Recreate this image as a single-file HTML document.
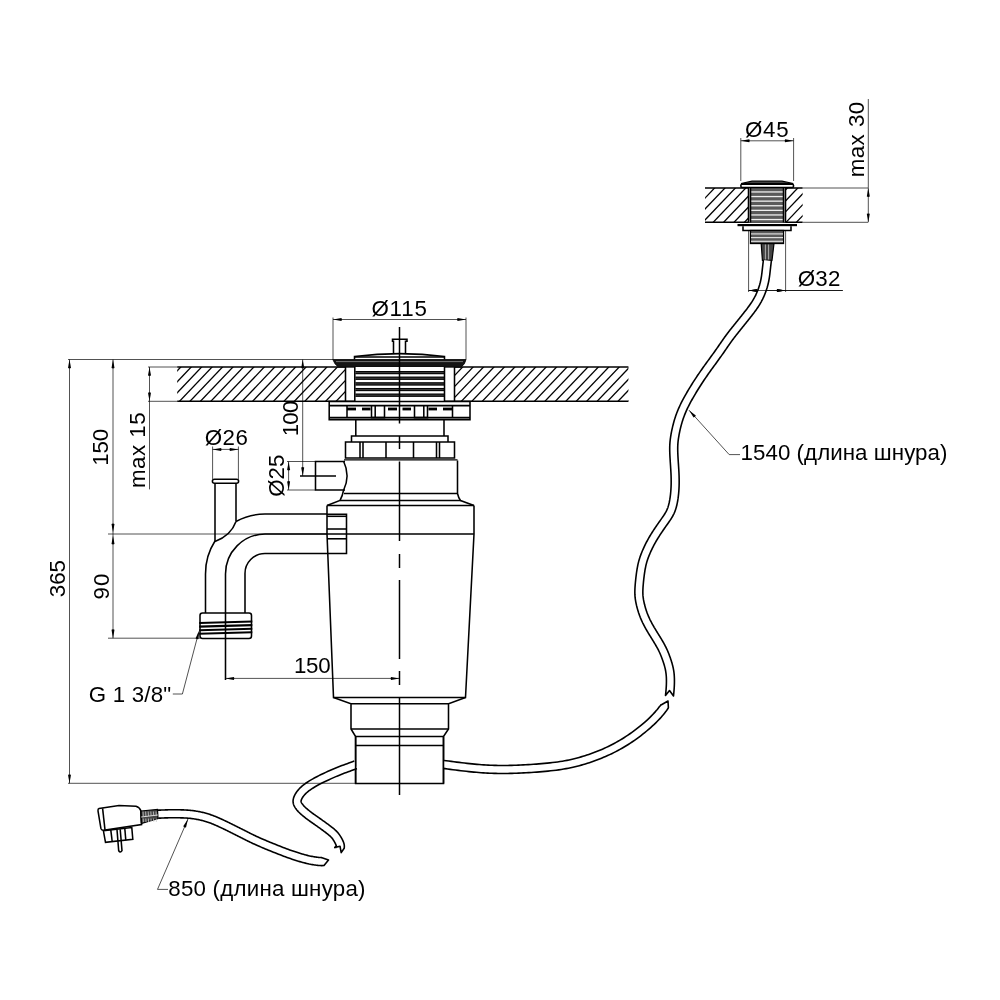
<!DOCTYPE html>
<html><head><meta charset="utf-8"><style>
html,body{margin:0;padding:0;background:#fff;}
svg{display:block;will-change:transform;}
text{font-family:"Liberation Sans",sans-serif;fill:#000;}
.o{stroke:#000;stroke-width:1.55;fill:none;}
.d{stroke:#000;stroke-width:1;fill:none;opacity:0.68;}
.c{stroke:#000;stroke-width:1.5;fill:none;}
.h{stroke:#000;stroke-width:1.3;}
.g{stroke:#777;stroke-width:1;}
.o2{stroke:#000;stroke-width:1.2;}
.f{fill:#151515;stroke:#000;stroke-width:0.8;}
.f2{fill:#444;stroke:#000;stroke-width:1.2;}
.ar{fill:#000;stroke:none;}
.th{stroke:#000;stroke-width:2.1;}
.th2{stroke:#ccc;stroke-width:0.8;}
.g2{stroke:#ddd;stroke-width:1;}
.cordf{fill:#fff;stroke:none;}
.cord{fill:none;stroke:#000;stroke-width:1.6;stroke-linejoin:round;}
</style></head><body>
<svg width="1000" height="1000" viewBox="0 0 1000 1000">
<rect width="1000" height="1000" fill="#fff"/>
<clipPath id="hL"><rect x="177.2" y="367" width="168.3" height="34.19999999999999"/></clipPath>
<g clip-path="url(#hL)">
<line class="h" x1="104.52" y1="403.31" x2="141.01" y2="364.89"/>
<line class="h" x1="114.96" y1="403.31" x2="151.45" y2="364.89"/>
<line class="h" x1="125.40" y1="403.31" x2="161.89" y2="364.89"/>
<line class="h" x1="135.84" y1="403.31" x2="172.33" y2="364.89"/>
<line class="h" x1="146.28" y1="403.31" x2="182.77" y2="364.89"/>
<line class="h" x1="156.72" y1="403.31" x2="193.21" y2="364.89"/>
<line class="h" x1="167.16" y1="403.31" x2="203.65" y2="364.89"/>
<line class="h" x1="177.60" y1="403.31" x2="214.09" y2="364.89"/>
<line class="h" x1="188.04" y1="403.31" x2="224.53" y2="364.89"/>
<line class="h" x1="198.48" y1="403.31" x2="234.97" y2="364.89"/>
<line class="h" x1="208.92" y1="403.31" x2="245.41" y2="364.89"/>
<line class="h" x1="219.36" y1="403.31" x2="255.85" y2="364.89"/>
<line class="h" x1="229.80" y1="403.31" x2="266.29" y2="364.89"/>
<line class="h" x1="240.24" y1="403.31" x2="276.73" y2="364.89"/>
<line class="h" x1="250.68" y1="403.31" x2="287.17" y2="364.89"/>
<line class="h" x1="261.12" y1="403.31" x2="297.61" y2="364.89"/>
<line class="h" x1="271.56" y1="403.31" x2="308.05" y2="364.89"/>
<line class="h" x1="282.00" y1="403.31" x2="318.49" y2="364.89"/>
<line class="h" x1="292.44" y1="403.31" x2="328.93" y2="364.89"/>
<line class="h" x1="302.88" y1="403.31" x2="339.37" y2="364.89"/>
<line class="h" x1="313.32" y1="403.31" x2="349.81" y2="364.89"/>
<line class="h" x1="323.76" y1="403.31" x2="360.25" y2="364.89"/>
<line class="h" x1="334.20" y1="403.31" x2="370.69" y2="364.89"/>
<line class="h" x1="344.64" y1="403.31" x2="381.13" y2="364.89"/>
</g>
<clipPath id="hR"><rect x="454.5" y="367" width="173.89999999999998" height="34.19999999999999"/></clipPath>
<g clip-path="url(#hR)">
<line class="h" x1="177.60" y1="403.31" x2="214.09" y2="364.89"/>
<line class="h" x1="188.04" y1="403.31" x2="224.53" y2="364.89"/>
<line class="h" x1="198.48" y1="403.31" x2="234.97" y2="364.89"/>
<line class="h" x1="208.92" y1="403.31" x2="245.41" y2="364.89"/>
<line class="h" x1="219.36" y1="403.31" x2="255.85" y2="364.89"/>
<line class="h" x1="229.80" y1="403.31" x2="266.29" y2="364.89"/>
<line class="h" x1="240.24" y1="403.31" x2="276.73" y2="364.89"/>
<line class="h" x1="250.68" y1="403.31" x2="287.17" y2="364.89"/>
<line class="h" x1="261.12" y1="403.31" x2="297.61" y2="364.89"/>
<line class="h" x1="271.56" y1="403.31" x2="308.05" y2="364.89"/>
<line class="h" x1="282.00" y1="403.31" x2="318.49" y2="364.89"/>
<line class="h" x1="292.44" y1="403.31" x2="328.93" y2="364.89"/>
<line class="h" x1="302.88" y1="403.31" x2="339.37" y2="364.89"/>
<line class="h" x1="313.32" y1="403.31" x2="349.81" y2="364.89"/>
<line class="h" x1="323.76" y1="403.31" x2="360.25" y2="364.89"/>
<line class="h" x1="334.20" y1="403.31" x2="370.69" y2="364.89"/>
<line class="h" x1="344.64" y1="403.31" x2="381.13" y2="364.89"/>
<line class="h" x1="355.08" y1="403.31" x2="391.57" y2="364.89"/>
<line class="h" x1="365.52" y1="403.31" x2="402.01" y2="364.89"/>
<line class="h" x1="375.96" y1="403.31" x2="412.45" y2="364.89"/>
<line class="h" x1="386.40" y1="403.31" x2="422.89" y2="364.89"/>
<line class="h" x1="396.84" y1="403.31" x2="433.33" y2="364.89"/>
<line class="h" x1="407.28" y1="403.31" x2="443.77" y2="364.89"/>
<line class="h" x1="417.72" y1="403.31" x2="454.21" y2="364.89"/>
<line class="h" x1="428.16" y1="403.31" x2="464.65" y2="364.89"/>
<line class="h" x1="438.60" y1="403.31" x2="475.09" y2="364.89"/>
<line class="h" x1="449.04" y1="403.31" x2="485.53" y2="364.89"/>
<line class="h" x1="459.48" y1="403.31" x2="495.97" y2="364.89"/>
<line class="h" x1="469.92" y1="403.31" x2="506.41" y2="364.89"/>
<line class="h" x1="480.36" y1="403.31" x2="516.85" y2="364.89"/>
<line class="h" x1="490.80" y1="403.31" x2="527.29" y2="364.89"/>
<line class="h" x1="501.24" y1="403.31" x2="537.73" y2="364.89"/>
<line class="h" x1="511.68" y1="403.31" x2="548.17" y2="364.89"/>
<line class="h" x1="522.12" y1="403.31" x2="558.61" y2="364.89"/>
<line class="h" x1="532.56" y1="403.31" x2="569.05" y2="364.89"/>
<line class="h" x1="543.00" y1="403.31" x2="579.49" y2="364.89"/>
<line class="h" x1="553.44" y1="403.31" x2="589.93" y2="364.89"/>
<line class="h" x1="563.88" y1="403.31" x2="600.37" y2="364.89"/>
<line class="h" x1="574.32" y1="403.31" x2="610.81" y2="364.89"/>
<line class="h" x1="584.76" y1="403.31" x2="621.25" y2="364.89"/>
<line class="h" x1="595.20" y1="403.31" x2="631.69" y2="364.89"/>
<line class="h" x1="605.64" y1="403.31" x2="642.13" y2="364.89"/>
<line class="h" x1="616.08" y1="403.31" x2="652.57" y2="364.89"/>
<line class="h" x1="626.52" y1="403.31" x2="663.01" y2="364.89"/>
</g>
<line class="o" x1="177.2" y1="367" x2="345.5" y2="367"/>
<line class="o" x1="454.5" y1="367" x2="628.4" y2="367"/>
<line class="o" x1="177.2" y1="401.3" x2="628.4" y2="401.3"/>
<line class="o" x1="345.5" y1="367" x2="345.5" y2="401.2"/>
<line class="o" x1="454.5" y1="367" x2="454.5" y2="401.2"/>
<line class="d" x1="68" y1="359.5" x2="333" y2="359.5"/>
<line class="d" x1="148" y1="367" x2="177.2" y2="367"/>
<line class="d" x1="148" y1="401.3" x2="177.2" y2="401.3"/>
<line class="d" x1="108" y1="534" x2="327" y2="534"/>
<line class="d" x1="108" y1="638.2" x2="200" y2="638.2"/>
<line class="d" x1="333" y1="317.5" x2="333" y2="359.5"/>
<line class="d" x1="466" y1="317.5" x2="466" y2="359.5"/>
<line class="d" x1="333" y1="319.5" x2="466" y2="319.5"/>
<path class="ar" d="M333.00,319.50 L341.50,318.00 Q342.30,319.50 341.50,321.00 Z"/>
<path class="ar" d="M466.00,319.50 L457.50,321.00 Q456.70,319.50 457.50,318.00 Z"/>
<text x="371.45" y="315.75" font-size="22.3" letter-spacing="0.83">Ø115</text>
<path class="f" d="M332.8,359.5 H466 Q465,364.5 461,367.2 H338.5 Q334.5,364.5 332.8,359.5 Z" />
<line class="g" x1="336" y1="361.6" x2="463" y2="361.6"/>
<path class="o" d="M354.5,359.5 V356.5 Q400,350.8 444.5,356.5 V359.5" />
<line class="o" x1="354.5" y1="356.9" x2="444.5" y2="356.9"/>
<path class="o" d="M393.5,353.8 V341.2 H392.5 V339.2 H407 V341.2 H405.5 V353.8" />
<rect x="354.8" y="367" width="89.7" height="34.2" fill="#fff"/>
<rect x="355.5" y="371.00" width="88.5" height="3.2" fill="#3a3a3a"/>
<rect x="355.5" y="371.10" width="88.5" height="0.9" fill="#000"/>
<rect x="355.5" y="373.20" width="88.5" height="0.9" fill="#000"/>
<rect x="355.5" y="376.65" width="88.5" height="3.2" fill="#3a3a3a"/>
<rect x="355.5" y="376.75" width="88.5" height="0.9" fill="#000"/>
<rect x="355.5" y="378.85" width="88.5" height="0.9" fill="#000"/>
<rect x="355.5" y="382.30" width="88.5" height="3.2" fill="#3a3a3a"/>
<rect x="355.5" y="382.40" width="88.5" height="0.9" fill="#000"/>
<rect x="355.5" y="384.50" width="88.5" height="0.9" fill="#000"/>
<rect x="355.5" y="387.95" width="88.5" height="3.2" fill="#3a3a3a"/>
<rect x="355.5" y="388.05" width="88.5" height="0.9" fill="#000"/>
<rect x="355.5" y="390.15" width="88.5" height="0.9" fill="#000"/>
<rect x="355.5" y="393.60" width="88.5" height="3.2" fill="#3a3a3a"/>
<rect x="355.5" y="393.70" width="88.5" height="0.9" fill="#000"/>
<rect x="355.5" y="395.80" width="88.5" height="0.9" fill="#000"/>
<line class="o" x1="354.8" y1="367" x2="354.8" y2="401.2"/>
<line class="o" x1="444.5" y1="367" x2="444.5" y2="401.2"/>
<path class="o" d="M329.2,401.5 H470 V419.6 H329.2 Z" />
<line class="o" x1="329.2" y1="405.6" x2="470" y2="405.6"/>
<line class="o" x1="329.2" y1="417.6" x2="470" y2="417.6"/>
<path class="o" d="M347,405.6 V417.6" />
<path class="o" d="M452.5,405.6 V417.6" />
<rect x="347" y="407.6" width="9" height="2.8" fill="#000"/>
<rect x="362" y="407.6" width="8.5" height="2.8" fill="#000"/>
<rect x="388" y="407.6" width="9" height="2.8" fill="#000"/>
<rect x="402.5" y="407.6" width="8.5" height="2.8" fill="#000"/>
<rect x="428.5" y="407.6" width="8.5" height="2.8" fill="#000"/>
<rect x="443" y="407.6" width="9" height="2.8" fill="#000"/>
<path class="o" d="M371.5,405.6 V417.6 H384.5 V405.6" />
<line class="o" x1="375.2" y1="405.6" x2="375.2" y2="417.6"/>
<path class="o" d="M414.5,405.6 V417.6 H427.5 V405.6" />
<line class="o" x1="423.8" y1="405.6" x2="423.8" y2="417.6"/>
<line class="o" x1="355.8" y1="419.6" x2="355.8" y2="436"/>
<line class="o" x1="444" y1="419.6" x2="444" y2="436"/>
<path class="o" d="M351.5,442 V436 H448 V442" />
<path class="o" d="M345.5,442 H454.5 V458 H345.5 Z" />
<line class="o" x1="360" y1="442" x2="360" y2="458"/>
<line class="o" x1="363" y1="442" x2="363" y2="458"/>
<line class="o" x1="386" y1="442" x2="386" y2="458"/>
<line class="o" x1="413.5" y1="442" x2="413.5" y2="458"/>
<line class="o" x1="436.5" y1="442" x2="436.5" y2="458"/>
<line class="o" x1="439.5" y1="442" x2="439.5" y2="458"/>
<line class="o2" x1="344" y1="459.9" x2="457.5" y2="459.9"/>
<path class="o" d="M343.5,461 A34,34 0 0 1 343.5,490.5 Q342.5,496 340,500.5 L327,505.5" />
<path class="o" d="M457.5,460.5 V493.5 Q458.5,498 460.5,500.5 L474,505.5" />
<line class="o" x1="344" y1="493.5" x2="457.5" y2="493.5"/>
<line class="o" x1="340" y1="500.5" x2="460.5" y2="500.5"/>
<line class="o" x1="327" y1="505.5" x2="474" y2="505.5"/>
<path class="o" d="M345,461.5 H315.5 V490 H345" />
<line class="o" x1="300" y1="476" x2="336" y2="476"/>
<path class="o" d="M327,505.5 V534 L333.5,697.5 H465.5 L474,534 V505.5" />
<line class="o" x1="327" y1="534" x2="474" y2="534"/>
<path class="o" d="M327,514.2 H346.5 V553.5 H327" />
<line class="o" x1="327" y1="516.3" x2="346.5" y2="516.3"/>
<line class="o" x1="327" y1="529" x2="346.5" y2="529"/>
<line class="o" x1="327" y1="538.8" x2="346.5" y2="538.8"/>
<path class="o" d="M333.5,697.5 L351,703.8 V729 L355.6,736.5 V783.5 H443.5 V736.5 L448.5,729 V703.8 L465.5,697.5" />
<line class="o" x1="351" y1="703.8" x2="448.5" y2="703.8"/>
<line class="o" x1="351" y1="729" x2="448.5" y2="729"/>
<line class="o" x1="355.6" y1="736.5" x2="443.5" y2="736.5"/>
<line class="o" x1="355.6" y1="745.4" x2="443.5" y2="745.4"/>
<line class="c" x1="399.5" y1="327" x2="399.5" y2="423.5"/>
<line class="c" x1="399.5" y1="436" x2="399.5" y2="449"/>
<line class="c" x1="399.5" y1="461.5" x2="399.5" y2="541"/>
<line class="c" x1="399.5" y1="554" x2="399.5" y2="568"/>
<line class="c" x1="399.5" y1="580" x2="399.5" y2="659"/>
<line class="c" x1="399.5" y1="671" x2="399.5" y2="685"/>
<line class="c" x1="399.5" y1="698" x2="399.5" y2="795"/>
<path class="o" d="M214.5,479.2 H236.5 Q238.6,479.2 238.6,481.2 Q238.6,483.2 236.5,483.2 H214.5 Q212.4,483.2 212.4,481.2 Q212.4,479.2 214.5,479.2 Z" />
<line class="o" x1="215" y1="483.2" x2="215" y2="541.5"/>
<line class="o" x1="236" y1="483.2" x2="236" y2="521.5"/>
<path class="o" d="M236,521.5 Q231,535.5 215,541.5" />
<path class="o" d="M236,521.5 A60,60 0 0 1 265,514 H327" />
<path class="o" d="M215,541 A60,60 0 0 0 205.5,574 V613" />
<path class="o" d="M225.5,680 V574 A40,40 0 0 1 265,534 H327" />
<path class="o" d="M245,613 V574 A20,20 0 0 1 265,553.5 H327" />
<rect class="o" x="200" y="613" width="51.5" height="25.5" rx="2.5"/>
<line class="th" x1="199.2" y1="623.00" x2="252.3" y2="621.50"/>
<line class="th" x1="199.2" y1="626.60" x2="252.3" y2="625.10"/>
<line class="th" x1="199.2" y1="630.20" x2="252.3" y2="628.70"/>
<line class="th" x1="199.2" y1="633.80" x2="252.3" y2="632.30"/>
<line class="d" x1="69.5" y1="359.5" x2="69.5" y2="783.3"/>
<path class="ar" d="M69.50,359.50 L71.00,368.00 Q69.50,368.80 68.00,368.00 Z"/>
<path class="ar" d="M69.50,783.30 L68.00,774.80 Q69.50,774.00 71.00,774.80 Z"/>
<text x="0" y="0" font-size="22.3" letter-spacing="0.00" transform="translate(65.05,597.20) rotate(-90)">365</text>
<line class="d" x1="113" y1="359.5" x2="113" y2="638.2"/>
<path class="ar" d="M113.00,359.50 L114.50,368.00 Q113.00,368.80 111.50,368.00 Z"/>
<path class="ar" d="M113.00,532.50 L111.50,524.00 Q113.00,523.20 114.50,524.00 Z"/>
<path class="ar" d="M113.00,535.50 L114.50,544.00 Q113.00,544.80 111.50,544.00 Z"/>
<path class="ar" d="M113.00,638.20 L111.50,629.70 Q113.00,628.90 114.50,629.70 Z"/>
<text x="0" y="0" font-size="22.3" letter-spacing="-0.25" transform="translate(108.15,465.65) rotate(-90)">150</text>
<text x="0" y="0" font-size="22.3" letter-spacing="1.00" transform="translate(108.50,599.50) rotate(-90)">90</text>
<line class="d" x1="149.5" y1="367" x2="149.5" y2="489.4"/>
<path class="ar" d="M149.50,367.00 L151.00,375.50 Q149.50,376.30 148.00,375.50 Z"/>
<path class="ar" d="M149.50,401.20 L148.00,392.70 Q149.50,391.90 151.00,392.70 Z"/>
<text x="0" y="0" font-size="22.3" letter-spacing="0.50" transform="translate(145.15,487.95) rotate(-90)">max 15</text>
<line class="d" x1="302.7" y1="359.5" x2="302.7" y2="476"/>
<path class="ar" d="M302.70,359.50 L304.20,368.00 Q302.70,368.80 301.20,368.00 Z"/>
<path class="ar" d="M302.70,476.00 L301.20,467.50 Q302.70,466.70 304.20,467.50 Z"/>
<text x="0" y="0" font-size="22.3" letter-spacing="-0.75" transform="translate(298.35,436.35) rotate(-90)">100</text>
<line class="d" x1="287" y1="461.5" x2="315.5" y2="461.5"/>
<line class="d" x1="287" y1="490" x2="315.5" y2="490"/>
<line class="d" x1="288.6" y1="461.5" x2="288.6" y2="490"/>
<path class="ar" d="M288.60,461.50 L290.10,470.00 Q288.60,470.80 287.10,470.00 Z"/>
<path class="ar" d="M288.60,490.00 L287.10,481.50 Q288.60,480.70 290.10,481.50 Z"/>
<text x="0" y="0" font-size="22.3" letter-spacing="0.00" transform="translate(284.40,496.80) rotate(-90)">Ø25</text>
<line class="d" x1="212.6" y1="446.5" x2="212.6" y2="479.2"/>
<line class="d" x1="238.4" y1="446.5" x2="238.4" y2="479.2"/>
<line class="d" x1="212.6" y1="449.4" x2="238.4" y2="449.4"/>
<path class="ar" d="M212.60,449.40 L221.10,447.90 Q221.90,449.40 221.10,450.90 Z"/>
<path class="ar" d="M238.40,449.40 L229.90,450.90 Q229.10,449.40 229.90,447.90 Z"/>
<text x="204.70" y="444.85" font-size="22.3" letter-spacing="0.50">Ø26</text>
<line class="d" x1="225.4" y1="678.4" x2="399.5" y2="678.4"/>
<path class="ar" d="M225.40,678.40 L233.90,676.90 Q234.70,678.40 233.90,679.90 Z"/>
<path class="ar" d="M399.50,678.40 L391.00,679.90 Q390.20,678.40 391.00,676.90 Z"/>
<text x="293.95" y="673.35" font-size="22.3" letter-spacing="-0.25">150</text>
<path class="d" d="M172.8,694 H182.4 L198.5,633" />
<path class="ar" d="M199.20,630.50 L198.48,639.10 Q196.83,639.49 195.58,638.34 Z"/>
<text x="88.75" y="702.25" font-size="22.3" letter-spacing="0.21">G 1 3/8"</text>
<clipPath id="sL"><rect x="705" y="188" width="43.5" height="34.30000000000001"/></clipPath>
<g clip-path="url(#sL)">
<line class="h" x1="628.00" y1="224.41" x2="664.59" y2="185.89"/>
<line class="h" x1="638.40" y1="224.41" x2="674.99" y2="185.89"/>
<line class="h" x1="648.80" y1="224.41" x2="685.39" y2="185.89"/>
<line class="h" x1="659.20" y1="224.41" x2="695.79" y2="185.89"/>
<line class="h" x1="669.60" y1="224.41" x2="706.19" y2="185.89"/>
<line class="h" x1="680.00" y1="224.41" x2="716.59" y2="185.89"/>
<line class="h" x1="690.40" y1="224.41" x2="726.99" y2="185.89"/>
<line class="h" x1="700.80" y1="224.41" x2="737.39" y2="185.89"/>
<line class="h" x1="711.20" y1="224.41" x2="747.79" y2="185.89"/>
<line class="h" x1="721.60" y1="224.41" x2="758.19" y2="185.89"/>
<line class="h" x1="732.00" y1="224.41" x2="768.59" y2="185.89"/>
<line class="h" x1="742.40" y1="224.41" x2="778.99" y2="185.89"/>
<line class="h" x1="752.80" y1="224.41" x2="789.38" y2="185.89"/>
</g>
<clipPath id="sR"><rect x="785.7" y="188" width="16.899999999999977" height="34.30000000000001"/></clipPath>
<g clip-path="url(#sR)">
<line class="h" x1="711.20" y1="224.41" x2="747.79" y2="185.89"/>
<line class="h" x1="721.60" y1="224.41" x2="758.19" y2="185.89"/>
<line class="h" x1="732.00" y1="224.41" x2="768.59" y2="185.89"/>
<line class="h" x1="742.40" y1="224.41" x2="778.99" y2="185.89"/>
<line class="h" x1="752.80" y1="224.41" x2="789.38" y2="185.89"/>
<line class="h" x1="763.20" y1="224.41" x2="799.78" y2="185.89"/>
<line class="h" x1="773.60" y1="224.41" x2="810.18" y2="185.89"/>
<line class="h" x1="784.00" y1="224.41" x2="820.58" y2="185.89"/>
<line class="h" x1="794.40" y1="224.41" x2="830.98" y2="185.89"/>
<line class="h" x1="804.80" y1="224.41" x2="841.38" y2="185.89"/>
</g>
<line class="o" x1="705" y1="188" x2="748.5" y2="188"/>
<line class="o" x1="785.7" y1="188" x2="802.6" y2="188"/>
<line class="o" x1="705" y1="222.3" x2="802.6" y2="222.3"/>
<line class="d" x1="802.6" y1="188" x2="868" y2="188"/>
<line class="d" x1="802.6" y1="222.3" x2="868" y2="222.3"/>
<rect x="748.5" y="188" width="37" height="34.3" fill="#fff"/>
<rect x="750.5" y="188" width="33" height="34.3" fill="#5a5a5a"/>
<rect x="750.5" y="191.30" width="33" height="1.3" fill="#eee"/>
<rect x="750.5" y="195.90" width="33" height="1.3" fill="#eee"/>
<rect x="750.5" y="200.50" width="33" height="1.3" fill="#eee"/>
<rect x="750.5" y="205.10" width="33" height="1.3" fill="#eee"/>
<rect x="750.5" y="209.70" width="33" height="1.3" fill="#eee"/>
<rect x="750.5" y="214.30" width="33" height="1.3" fill="#eee"/>
<rect x="750.5" y="218.90" width="33" height="1.3" fill="#eee"/>
<path class="o" d="M748.5,188 V222.5 M785.5,188 V222.5 M750.5,188 V222.5 M783.5,188 V222.5" />
<path class="f2" d="M741,183.5 L752,181.2 H782 L793.3,183.5 Z" />
<rect class="o" x="740.8" y="184.2" width="52.8" height="3.2" rx="1.5" fill="#fff"/>
<rect x="737.5" y="224" width="59.5" height="2.2" fill="#000"/>
<path class="o" d="M743,226.2 V230.5 H791 V226.2" />
<rect x="750.5" y="230.5" width="33" height="13" fill="#5a5a5a" stroke="#000" stroke-width="1.3"/>
<rect x="751" y="233.30" width="32" height="1.2" fill="#ddd"/>
<rect x="751" y="237.00" width="32" height="1.2" fill="#ddd"/>
<rect x="751" y="240.70" width="32" height="1.2" fill="#ddd"/>
<path class="f2" d="M761.2,243.6 H774 L772,260.4 H762.4 Z" />
<line class="th2" x1="765.4" y1="244.5" x2="765.4" y2="259.5"/>
<line class="th2" x1="768.6" y1="244.5" x2="768.6" y2="259.5"/>
<line class="d" x1="740.8" y1="138" x2="740.8" y2="181"/>
<line class="d" x1="793.6" y1="138" x2="793.6" y2="181"/>
<line class="d" x1="740.8" y1="140.8" x2="793.6" y2="140.8"/>
<path class="ar" d="M740.80,140.80 L749.30,139.30 Q750.10,140.80 749.30,142.30 Z"/>
<path class="ar" d="M793.60,140.80 L785.10,142.30 Q784.30,140.80 785.10,139.30 Z"/>
<text x="744.95" y="137.00" font-size="22.3" letter-spacing="0.75">Ø45</text>
<line class="d" x1="868.3" y1="99" x2="868.3" y2="222.3"/>
<path class="ar" d="M868.30,188.00 L869.80,196.50 Q868.30,197.30 866.80,196.50 Z"/>
<path class="ar" d="M868.30,222.30 L866.80,213.80 Q868.30,213.00 869.80,213.80 Z"/>
<text x="0" y="0" font-size="22.3" letter-spacing="0.50" transform="translate(864.30,177.35) rotate(-90)">max 30</text>
<line class="d" x1="748.6" y1="230" x2="748.6" y2="292"/>
<line class="d" x1="785.6" y1="230" x2="785.6" y2="292"/>
<line class="d" x1="748.6" y1="290.5" x2="842.8" y2="290.5"/>
<path class="ar" d="M748.60,290.50 L757.10,289.00 Q757.90,290.50 757.10,292.00 Z"/>
<path class="ar" d="M785.60,290.50 L777.10,292.00 Q776.30,290.50 777.10,289.00 Z"/>
<text x="797.65" y="285.85" font-size="22.3" letter-spacing="0.25">Ø32</text>
<path class="cordf" d="M763.43,259.89 L763.36,260.49 L763.26,261.23 L763.16,262.02 L763.07,262.83 L762.97,263.65 L762.87,264.48 L762.78,265.27 L762.69,266.09 L762.59,266.93 L762.50,267.77 L762.40,268.61 L762.31,269.45 L762.22,270.28 L762.12,271.12 L762.02,271.96 L761.93,272.79 L761.82,273.62 L761.72,274.44 L761.61,275.26 L761.49,276.08 L761.37,276.89 L761.23,277.70 L761.09,278.50 L760.94,279.31 L760.78,280.11 L760.61,280.91 L760.42,281.72 L760.23,282.52 L760.02,283.32 L759.80,284.12 L759.58,284.93 L759.34,285.73 L759.09,286.53 L758.83,287.33 L758.56,288.12 L758.28,288.91 L757.99,289.70 L757.70,290.48 L757.39,291.25 L757.08,292.02 L756.75,292.78 L756.42,293.54 L756.08,294.29 L755.73,295.04 L755.37,295.78 L755.00,296.51 L754.62,297.24 L754.23,297.97 L753.82,298.69 L753.40,299.42 L752.97,300.14 L752.53,300.86 L752.07,301.59 L751.60,302.32 L751.11,303.05 L750.61,303.79 L750.10,304.53 L749.57,305.28 L749.02,306.04 L748.46,306.81 L747.88,307.58 L747.30,308.36 L746.70,309.15 L746.09,309.94 L745.46,310.74 L744.83,311.55 L744.19,312.36 L743.54,313.18 L742.89,314.00 L742.23,314.83 L741.57,315.65 L740.91,316.48 L740.24,317.32 L739.57,318.15 L738.90,318.98 L738.23,319.82 L737.56,320.65 L736.89,321.48 L736.22,322.31 L735.55,323.15 L734.88,323.98 L734.21,324.81 L733.54,325.65 L732.87,326.49 L732.20,327.32 L731.53,328.16 L730.86,329.01 L730.19,329.85 L729.52,330.71 L728.86,331.56 L728.19,332.42 L727.53,333.29 L726.87,334.16 L726.22,335.04 L725.57,335.93 L724.92,336.82 L724.28,337.71 L723.64,338.61 L723.00,339.52 L722.36,340.43 L721.72,341.35 L721.09,342.27 L720.45,343.19 L719.81,344.12 L719.17,345.06 L718.53,346.00 L717.87,346.94 L717.22,347.89 L716.55,348.84 L715.88,349.80 L715.20,350.76 L714.52,351.72 L713.83,352.69 L713.14,353.65 L712.44,354.62 L711.74,355.59 L711.04,356.55 L710.33,357.52 L709.63,358.48 L708.93,359.44 L708.23,360.39 L707.53,361.35 L706.84,362.30 L706.15,363.25 L705.46,364.20 L704.77,365.15 L704.09,366.10 L703.41,367.06 L702.73,368.01 L702.05,368.97 L701.37,369.93 L700.70,370.90 L700.03,371.87 L699.35,372.84 L698.68,373.83 L698.01,374.82 L697.34,375.81 L696.67,376.82 L696.00,377.83 L695.33,378.84 L694.67,379.86 L694.00,380.89 L693.34,381.91 L692.69,382.95 L692.03,383.98 L691.39,385.02 L690.74,386.06 L690.10,387.10 L689.47,388.13 L688.85,389.17 L688.23,390.20 L687.62,391.24 L687.01,392.27 L686.42,393.29 L685.83,394.31 L685.25,395.33 L684.68,396.35 L684.12,397.37 L683.57,398.38 L683.03,399.39 L682.49,400.40 L681.97,401.42 L681.45,402.44 L680.94,403.46 L680.44,404.49 L679.95,405.52 L679.47,406.57 L678.99,407.62 L678.52,408.69 L678.06,409.76 L677.61,410.85 L677.17,411.96 L676.74,413.08 L676.32,414.21 L675.91,415.35 L675.51,416.52 L675.12,417.69 L674.74,418.88 L674.38,420.07 L674.03,421.28 L673.69,422.49 L673.36,423.71 L673.05,424.93 L672.74,426.14 L672.46,427.35 L672.18,428.56 L671.92,429.75 L671.68,430.93 L671.44,432.10 L671.22,433.26 L671.02,434.40 L670.83,435.53 L670.65,436.65 L670.48,437.76 L670.33,438.86 L670.20,439.97 L670.08,441.08 L669.97,442.20 L669.89,443.33 L669.82,444.48 L669.77,445.65 L669.73,446.84 L669.72,448.05 L669.71,449.29 L669.73,450.57 L669.76,451.87 L669.80,453.20 L669.85,454.56 L669.92,455.95 L669.99,457.36 L670.08,458.80 L670.17,460.25 L670.26,461.72 L670.36,463.21 L670.46,464.70 L670.56,466.20 L670.65,467.69 L670.75,469.19 L670.83,470.69 L670.91,472.18 L670.99,473.66 L671.05,475.13 L671.10,476.59 L671.14,478.04 L671.16,479.47 L671.17,480.90 L671.17,482.30 L671.16,483.69 L671.13,485.06 L671.08,486.41 L671.02,487.73 L670.95,489.03 L670.87,490.29 L670.77,491.52 L670.67,492.72 L670.55,493.87 L670.43,494.99 L670.30,496.06 L670.16,497.08 L670.02,498.06 L669.87,498.99 L669.73,499.88 L669.58,500.71 L669.42,501.51 L669.27,502.26 L669.11,502.97 L668.95,503.65 L668.79,504.30 L668.63,504.91 L668.47,505.50 L668.30,506.07 L668.13,506.62 L667.96,507.15 L667.78,507.67 L667.59,508.18 L667.40,508.68 L667.20,509.18 L666.99,509.67 L666.78,510.16 L666.55,510.64 L666.31,511.14 L666.05,511.63 L665.78,512.14 L665.49,512.65 L665.18,513.18 L664.85,513.72 L664.50,514.28 L664.12,514.86 L663.72,515.47 L663.30,516.09 L662.86,516.74 L662.39,517.42 L661.89,518.12 L661.38,518.85 L660.85,519.61 L660.30,520.39 L659.73,521.19 L659.14,522.02 L658.55,522.87 L657.94,523.73 L657.32,524.62 L656.70,525.52 L656.08,526.43 L655.45,527.35 L654.83,528.27 L654.21,529.20 L653.59,530.14 L652.98,531.08 L652.38,532.02 L651.78,532.96 L651.19,533.90 L650.62,534.84 L650.05,535.78 L649.49,536.73 L648.94,537.67 L648.40,538.62 L647.87,539.58 L647.35,540.53 L646.83,541.50 L646.33,542.46 L645.83,543.43 L645.34,544.41 L644.87,545.39 L644.40,546.37 L643.94,547.35 L643.49,548.33 L643.05,549.31 L642.63,550.28 L642.21,551.26 L641.81,552.22 L641.43,553.19 L641.05,554.15 L640.69,555.11 L640.35,556.07 L640.02,557.02 L639.70,557.99 L639.40,558.95 L639.11,559.92 L638.83,560.90 L638.57,561.89 L638.32,562.89 L638.08,563.90 L637.86,564.93 L637.64,565.97 L637.44,567.03 L637.24,568.10 L637.06,569.18 L636.88,570.28 L636.71,571.39 L636.55,572.50 L636.39,573.62 L636.25,574.75 L636.11,575.87 L635.97,577.00 L635.84,578.11 L635.72,579.22 L635.61,580.32 L635.50,581.41 L635.39,582.47 L635.30,583.53 L635.21,584.56 L635.13,585.57 L635.06,586.57 L635.00,587.54 L634.95,588.49 L634.91,589.42 L634.88,590.33 L634.86,591.23 L634.85,592.10 L634.85,592.97 L634.87,593.82 L634.90,594.66 L634.95,595.50 L635.01,596.32 L635.08,597.15 L635.17,597.97 L635.28,598.80 L635.39,599.63 L635.52,600.46 L635.67,601.30 L635.83,602.15 L636.00,603.00 L636.18,603.87 L636.38,604.75 L636.58,605.63 L636.81,606.53 L637.04,607.43 L637.28,608.34 L637.54,609.25 L637.80,610.17 L638.08,611.09 L638.37,612.00 L638.66,612.92 L638.97,613.83 L639.29,614.74 L639.62,615.65 L639.96,616.55 L640.31,617.45 L640.68,618.34 L641.05,619.23 L641.43,620.11 L641.83,621.00 L642.23,621.87 L642.64,622.75 L643.07,623.62 L643.50,624.48 L643.95,625.35 L644.40,626.22 L644.86,627.08 L645.33,627.94 L645.81,628.80 L646.30,629.65 L646.79,630.51 L647.29,631.36 L647.79,632.21 L648.30,633.06 L648.81,633.91 L649.33,634.76 L649.85,635.60 L650.37,636.44 L650.89,637.28 L651.41,638.11 L651.92,638.95 L652.44,639.78 L652.95,640.61 L653.46,641.43 L653.96,642.26 L654.45,643.08 L654.94,643.89 L655.42,644.70 L655.89,645.51 L656.35,646.31 L656.80,647.11 L657.24,647.90 L657.66,648.68 L658.07,649.46 L658.46,650.23 L658.84,650.99 L659.21,651.75 L659.57,652.50 L659.91,653.24 L660.24,653.99 L660.55,654.73 L660.86,655.46 L661.16,656.20 L661.45,656.95 L661.73,657.69 L662.01,658.44 L662.29,659.19 L662.56,659.94 L662.82,660.70 L663.08,661.47 L663.34,662.23 L663.59,663.00 L663.83,663.78 L664.07,664.55 L664.30,665.33 L664.52,666.10 L664.73,666.88 L664.93,667.66 L665.12,668.43 L665.30,669.20 L665.46,669.97 L665.61,670.74 L665.74,671.51 L665.86,672.27 L665.97,673.03 L666.06,673.79 L666.15,674.55 L666.21,675.30 L666.27,676.05 L666.32,676.80 L666.36,677.54 L666.39,678.27 L666.41,679.00 L666.42,679.72 L666.43,680.44 L666.43,681.14 L666.43,681.84 L666.42,682.53 L666.41,683.21 L666.39,683.88 L666.37,684.55 L666.34,685.21 L666.31,685.87 L666.28,686.52 L666.24,687.17 L666.20,687.81 L666.16,688.45 L666.11,689.09 L666.06,689.72 L666.00,690.35 L665.95,690.97 L665.89,691.59 L665.83,692.22 L665.77,692.84 L665.71,693.44 L665.64,694.02 L665.58,694.58 L665.50,695.50 L669.50,690.50 L673.50,696.00 L673.53,695.50 L673.60,694.90 L673.66,694.27 L673.73,693.64 L673.79,692.98 L673.85,692.33 L673.91,691.71 L673.97,691.05 L674.03,690.38 L674.08,689.71 L674.13,689.03 L674.18,688.34 L674.23,687.66 L674.27,686.96 L674.30,686.26 L674.34,685.55 L674.36,684.84 L674.39,684.12 L674.41,683.39 L674.42,682.65 L674.43,681.91 L674.43,681.15 L674.43,680.38 L674.42,679.60 L674.41,678.80 L674.38,678.00 L674.35,677.17 L674.31,676.34 L674.25,675.49 L674.19,674.63 L674.11,673.76 L674.01,672.87 L673.90,671.98 L673.77,671.09 L673.63,670.19 L673.47,669.29 L673.30,668.39 L673.11,667.49 L672.91,666.60 L672.69,665.71 L672.46,664.83 L672.23,663.96 L671.98,663.09 L671.73,662.24 L671.47,661.40 L671.20,660.56 L670.93,659.73 L670.66,658.91 L670.38,658.10 L670.10,657.29 L669.81,656.48 L669.52,655.67 L669.22,654.86 L668.91,654.05 L668.59,653.24 L668.26,652.43 L667.92,651.61 L667.57,650.79 L667.20,649.96 L666.82,649.13 L666.43,648.29 L666.02,647.45 L665.60,646.61 L665.16,645.76 L664.72,644.91 L664.26,644.06 L663.79,643.21 L663.31,642.36 L662.82,641.51 L662.32,640.65 L661.82,639.80 L661.31,638.95 L660.80,638.10 L660.28,637.26 L659.76,636.41 L659.24,635.57 L658.72,634.73 L658.20,633.90 L657.69,633.06 L657.17,632.23 L656.66,631.40 L656.15,630.58 L655.65,629.76 L655.16,628.94 L654.67,628.12 L654.18,627.31 L653.71,626.49 L653.24,625.68 L652.79,624.88 L652.34,624.07 L651.90,623.27 L651.47,622.47 L651.05,621.67 L650.64,620.87 L650.24,620.07 L649.85,619.28 L649.48,618.48 L649.11,617.69 L648.75,616.89 L648.41,616.09 L648.07,615.29 L647.75,614.49 L647.43,613.68 L647.12,612.87 L646.83,612.05 L646.54,611.23 L646.26,610.40 L645.99,609.57 L645.72,608.73 L645.47,607.90 L645.23,607.06 L645.00,606.23 L644.78,605.40 L644.56,604.58 L644.36,603.76 L644.17,602.96 L644.00,602.17 L643.83,601.39 L643.68,600.63 L643.54,599.89 L643.42,599.16 L643.31,598.44 L643.21,597.74 L643.12,597.05 L643.05,596.36 L642.98,595.68 L642.93,594.99 L642.90,594.29 L642.87,593.59 L642.85,592.86 L642.85,592.12 L642.86,591.35 L642.87,590.56 L642.90,589.74 L642.94,588.89 L642.99,588.01 L643.04,587.10 L643.11,586.17 L643.19,585.21 L643.27,584.22 L643.36,583.21 L643.46,582.18 L643.56,581.14 L643.67,580.08 L643.79,579.01 L643.92,577.93 L644.05,576.85 L644.18,575.77 L644.32,574.69 L644.47,573.62 L644.62,572.56 L644.78,571.52 L644.95,570.49 L645.12,569.49 L645.30,568.50 L645.49,567.54 L645.68,566.59 L645.88,565.67 L646.09,564.77 L646.32,563.88 L646.55,563.01 L646.79,562.15 L647.04,561.29 L647.31,560.44 L647.59,559.59 L647.89,558.73 L648.20,557.87 L648.53,557.00 L648.87,556.13 L649.22,555.24 L649.59,554.35 L649.97,553.45 L650.37,552.54 L650.78,551.62 L651.20,550.71 L651.63,549.79 L652.07,548.87 L652.52,547.96 L652.97,547.04 L653.44,546.14 L653.91,545.23 L654.39,544.33 L654.88,543.44 L655.37,542.55 L655.88,541.66 L656.39,540.77 L656.92,539.88 L657.45,539.00 L658.00,538.11 L658.55,537.21 L659.12,536.32 L659.70,535.42 L660.28,534.52 L660.88,533.62 L661.47,532.73 L662.08,531.83 L662.69,530.94 L663.29,530.05 L663.90,529.18 L664.50,528.31 L665.09,527.46 L665.68,526.63 L666.26,525.81 L666.83,525.01 L667.38,524.23 L667.92,523.46 L668.44,522.72 L668.95,521.99 L669.44,521.28 L669.92,520.59 L670.38,519.91 L670.82,519.24 L671.25,518.58 L671.66,517.92 L672.05,517.28 L672.42,516.64 L672.78,516.00 L673.12,515.37 L673.45,514.74 L673.76,514.11 L674.05,513.48 L674.33,512.86 L674.60,512.23 L674.85,511.61 L675.09,510.98 L675.32,510.34 L675.54,509.70 L675.75,509.05 L675.96,508.38 L676.16,507.70 L676.35,507.00 L676.54,506.27 L676.73,505.52 L676.91,504.74 L677.09,503.92 L677.27,503.07 L677.44,502.18 L677.61,501.25 L677.77,500.27 L677.93,499.25 L678.09,498.18 L678.23,497.07 L678.37,495.91 L678.51,494.71 L678.63,493.47 L678.74,492.18 L678.85,490.86 L678.94,489.51 L679.01,488.13 L679.08,486.72 L679.12,485.28 L679.16,483.83 L679.17,482.35 L679.17,480.87 L679.16,479.37 L679.13,477.86 L679.09,476.34 L679.04,474.82 L678.98,473.29 L678.90,471.77 L678.82,470.24 L678.73,468.71 L678.64,467.19 L678.54,465.68 L678.44,464.17 L678.34,462.68 L678.24,461.21 L678.15,459.75 L678.06,458.32 L677.98,456.92 L677.91,455.55 L677.85,454.21 L677.79,452.91 L677.75,451.65 L677.73,450.43 L677.71,449.25 L677.72,448.11 L677.73,447.01 L677.76,445.94 L677.81,444.90 L677.87,443.88 L677.95,442.87 L678.04,441.87 L678.14,440.88 L678.27,439.88 L678.40,438.88 L678.55,437.86 L678.72,436.83 L678.90,435.78 L679.09,434.72 L679.30,433.63 L679.52,432.53 L679.75,431.42 L679.99,430.29 L680.25,429.16 L680.52,428.02 L680.80,426.88 L681.10,425.74 L681.40,424.61 L681.72,423.48 L682.04,422.36 L682.38,421.25 L682.73,420.16 L683.09,419.08 L683.46,418.01 L683.83,416.95 L684.22,415.91 L684.62,414.88 L685.03,413.86 L685.44,412.86 L685.87,411.86 L686.30,410.88 L686.74,409.90 L687.19,408.92 L687.65,407.96 L688.12,406.99 L688.60,406.03 L689.09,405.07 L689.59,404.11 L690.09,403.15 L690.61,402.18 L691.14,401.21 L691.68,400.24 L692.22,399.26 L692.78,398.28 L693.35,397.29 L693.92,396.30 L694.51,395.30 L695.10,394.29 L695.70,393.29 L696.31,392.28 L696.93,391.27 L697.55,390.26 L698.18,389.25 L698.81,388.24 L699.45,387.23 L700.09,386.22 L700.73,385.22 L701.37,384.22 L702.02,383.22 L702.67,382.23 L703.33,381.25 L703.98,380.27 L704.63,379.30 L705.29,378.33 L705.95,377.37 L706.61,376.42 L707.26,375.47 L707.93,374.52 L708.59,373.58 L709.25,372.64 L709.92,371.70 L710.59,370.77 L711.26,369.83 L711.94,368.89 L712.62,367.95 L713.31,367.01 L714.00,366.06 L714.69,365.11 L715.39,364.16 L716.09,363.20 L716.80,362.23 L717.51,361.26 L718.21,360.29 L718.92,359.31 L719.63,358.33 L720.34,357.34 L721.04,356.36 L721.73,355.38 L722.42,354.40 L723.11,353.43 L723.78,352.46 L724.45,351.49 L725.11,350.54 L725.76,349.59 L726.41,348.65 L727.05,347.72 L727.68,346.81 L728.30,345.90 L728.93,345.00 L729.55,344.11 L730.16,343.24 L730.78,342.37 L731.40,341.51 L732.02,340.65 L732.65,339.80 L733.27,338.96 L733.91,338.12 L734.54,337.29 L735.18,336.46 L735.83,335.63 L736.48,334.80 L737.13,333.97 L737.79,333.14 L738.45,332.31 L739.11,331.49 L739.78,330.66 L740.44,329.83 L741.11,328.99 L741.78,328.16 L742.45,327.33 L743.12,326.50 L743.79,325.66 L744.46,324.83 L745.14,323.99 L745.81,323.16 L746.48,322.32 L747.15,321.49 L747.82,320.65 L748.49,319.82 L749.15,318.98 L749.81,318.15 L750.47,317.32 L751.12,316.49 L751.77,315.66 L752.41,314.83 L753.05,314.01 L753.67,313.19 L754.29,312.37 L754.89,311.56 L755.49,310.75 L756.07,309.94 L756.65,309.13 L757.21,308.32 L757.76,307.51 L758.29,306.70 L758.82,305.89 L759.33,305.08 L759.82,304.27 L760.31,303.46 L760.78,302.64 L761.24,301.82 L761.68,300.99 L762.12,300.16 L762.54,299.33 L762.95,298.49 L763.34,297.65 L763.73,296.80 L764.10,295.95 L764.46,295.09 L764.81,294.23 L765.16,293.36 L765.49,292.49 L765.81,291.62 L766.12,290.73 L766.42,289.85 L766.71,288.96 L766.99,288.06 L767.26,287.17 L767.51,286.27 L767.76,285.36 L767.99,284.46 L768.21,283.55 L768.42,282.64 L768.61,281.74 L768.79,280.84 L768.96,279.93 L769.12,279.04 L769.27,278.14 L769.40,277.25 L769.53,276.37 L769.65,275.49 L769.76,274.62 L769.87,273.75 L769.97,272.89 L770.07,272.03 L770.17,271.18 L770.26,270.33 L770.35,269.49 L770.45,268.66 L770.54,267.83 L770.63,267.00 L770.73,266.19 L770.82,265.40 L770.91,264.58 L771.01,263.78 L771.10,263.00 L771.20,262.23 L771.29,261.50 L771.37,260.91 Z"/>
<path class="cord" d="M763.43,259.89 L763.36,260.49 L763.26,261.23 L763.16,262.02 L763.07,262.83 L762.97,263.65 L762.87,264.48 L762.78,265.27 L762.69,266.09 L762.59,266.93 L762.50,267.77 L762.40,268.61 L762.31,269.45 L762.22,270.28 L762.12,271.12 L762.02,271.96 L761.93,272.79 L761.82,273.62 L761.72,274.44 L761.61,275.26 L761.49,276.08 L761.37,276.89 L761.23,277.70 L761.09,278.50 L760.94,279.31 L760.78,280.11 L760.61,280.91 L760.42,281.72 L760.23,282.52 L760.02,283.32 L759.80,284.12 L759.58,284.93 L759.34,285.73 L759.09,286.53 L758.83,287.33 L758.56,288.12 L758.28,288.91 L757.99,289.70 L757.70,290.48 L757.39,291.25 L757.08,292.02 L756.75,292.78 L756.42,293.54 L756.08,294.29 L755.73,295.04 L755.37,295.78 L755.00,296.51 L754.62,297.24 L754.23,297.97 L753.82,298.69 L753.40,299.42 L752.97,300.14 L752.53,300.86 L752.07,301.59 L751.60,302.32 L751.11,303.05 L750.61,303.79 L750.10,304.53 L749.57,305.28 L749.02,306.04 L748.46,306.81 L747.88,307.58 L747.30,308.36 L746.70,309.15 L746.09,309.94 L745.46,310.74 L744.83,311.55 L744.19,312.36 L743.54,313.18 L742.89,314.00 L742.23,314.83 L741.57,315.65 L740.91,316.48 L740.24,317.32 L739.57,318.15 L738.90,318.98 L738.23,319.82 L737.56,320.65 L736.89,321.48 L736.22,322.31 L735.55,323.15 L734.88,323.98 L734.21,324.81 L733.54,325.65 L732.87,326.49 L732.20,327.32 L731.53,328.16 L730.86,329.01 L730.19,329.85 L729.52,330.71 L728.86,331.56 L728.19,332.42 L727.53,333.29 L726.87,334.16 L726.22,335.04 L725.57,335.93 L724.92,336.82 L724.28,337.71 L723.64,338.61 L723.00,339.52 L722.36,340.43 L721.72,341.35 L721.09,342.27 L720.45,343.19 L719.81,344.12 L719.17,345.06 L718.53,346.00 L717.87,346.94 L717.22,347.89 L716.55,348.84 L715.88,349.80 L715.20,350.76 L714.52,351.72 L713.83,352.69 L713.14,353.65 L712.44,354.62 L711.74,355.59 L711.04,356.55 L710.33,357.52 L709.63,358.48 L708.93,359.44 L708.23,360.39 L707.53,361.35 L706.84,362.30 L706.15,363.25 L705.46,364.20 L704.77,365.15 L704.09,366.10 L703.41,367.06 L702.73,368.01 L702.05,368.97 L701.37,369.93 L700.70,370.90 L700.03,371.87 L699.35,372.84 L698.68,373.83 L698.01,374.82 L697.34,375.81 L696.67,376.82 L696.00,377.83 L695.33,378.84 L694.67,379.86 L694.00,380.89 L693.34,381.91 L692.69,382.95 L692.03,383.98 L691.39,385.02 L690.74,386.06 L690.10,387.10 L689.47,388.13 L688.85,389.17 L688.23,390.20 L687.62,391.24 L687.01,392.27 L686.42,393.29 L685.83,394.31 L685.25,395.33 L684.68,396.35 L684.12,397.37 L683.57,398.38 L683.03,399.39 L682.49,400.40 L681.97,401.42 L681.45,402.44 L680.94,403.46 L680.44,404.49 L679.95,405.52 L679.47,406.57 L678.99,407.62 L678.52,408.69 L678.06,409.76 L677.61,410.85 L677.17,411.96 L676.74,413.08 L676.32,414.21 L675.91,415.35 L675.51,416.52 L675.12,417.69 L674.74,418.88 L674.38,420.07 L674.03,421.28 L673.69,422.49 L673.36,423.71 L673.05,424.93 L672.74,426.14 L672.46,427.35 L672.18,428.56 L671.92,429.75 L671.68,430.93 L671.44,432.10 L671.22,433.26 L671.02,434.40 L670.83,435.53 L670.65,436.65 L670.48,437.76 L670.33,438.86 L670.20,439.97 L670.08,441.08 L669.97,442.20 L669.89,443.33 L669.82,444.48 L669.77,445.65 L669.73,446.84 L669.72,448.05 L669.71,449.29 L669.73,450.57 L669.76,451.87 L669.80,453.20 L669.85,454.56 L669.92,455.95 L669.99,457.36 L670.08,458.80 L670.17,460.25 L670.26,461.72 L670.36,463.21 L670.46,464.70 L670.56,466.20 L670.65,467.69 L670.75,469.19 L670.83,470.69 L670.91,472.18 L670.99,473.66 L671.05,475.13 L671.10,476.59 L671.14,478.04 L671.16,479.47 L671.17,480.90 L671.17,482.30 L671.16,483.69 L671.13,485.06 L671.08,486.41 L671.02,487.73 L670.95,489.03 L670.87,490.29 L670.77,491.52 L670.67,492.72 L670.55,493.87 L670.43,494.99 L670.30,496.06 L670.16,497.08 L670.02,498.06 L669.87,498.99 L669.73,499.88 L669.58,500.71 L669.42,501.51 L669.27,502.26 L669.11,502.97 L668.95,503.65 L668.79,504.30 L668.63,504.91 L668.47,505.50 L668.30,506.07 L668.13,506.62 L667.96,507.15 L667.78,507.67 L667.59,508.18 L667.40,508.68 L667.20,509.18 L666.99,509.67 L666.78,510.16 L666.55,510.64 L666.31,511.14 L666.05,511.63 L665.78,512.14 L665.49,512.65 L665.18,513.18 L664.85,513.72 L664.50,514.28 L664.12,514.86 L663.72,515.47 L663.30,516.09 L662.86,516.74 L662.39,517.42 L661.89,518.12 L661.38,518.85 L660.85,519.61 L660.30,520.39 L659.73,521.19 L659.14,522.02 L658.55,522.87 L657.94,523.73 L657.32,524.62 L656.70,525.52 L656.08,526.43 L655.45,527.35 L654.83,528.27 L654.21,529.20 L653.59,530.14 L652.98,531.08 L652.38,532.02 L651.78,532.96 L651.19,533.90 L650.62,534.84 L650.05,535.78 L649.49,536.73 L648.94,537.67 L648.40,538.62 L647.87,539.58 L647.35,540.53 L646.83,541.50 L646.33,542.46 L645.83,543.43 L645.34,544.41 L644.87,545.39 L644.40,546.37 L643.94,547.35 L643.49,548.33 L643.05,549.31 L642.63,550.28 L642.21,551.26 L641.81,552.22 L641.43,553.19 L641.05,554.15 L640.69,555.11 L640.35,556.07 L640.02,557.02 L639.70,557.99 L639.40,558.95 L639.11,559.92 L638.83,560.90 L638.57,561.89 L638.32,562.89 L638.08,563.90 L637.86,564.93 L637.64,565.97 L637.44,567.03 L637.24,568.10 L637.06,569.18 L636.88,570.28 L636.71,571.39 L636.55,572.50 L636.39,573.62 L636.25,574.75 L636.11,575.87 L635.97,577.00 L635.84,578.11 L635.72,579.22 L635.61,580.32 L635.50,581.41 L635.39,582.47 L635.30,583.53 L635.21,584.56 L635.13,585.57 L635.06,586.57 L635.00,587.54 L634.95,588.49 L634.91,589.42 L634.88,590.33 L634.86,591.23 L634.85,592.10 L634.85,592.97 L634.87,593.82 L634.90,594.66 L634.95,595.50 L635.01,596.32 L635.08,597.15 L635.17,597.97 L635.28,598.80 L635.39,599.63 L635.52,600.46 L635.67,601.30 L635.83,602.15 L636.00,603.00 L636.18,603.87 L636.38,604.75 L636.58,605.63 L636.81,606.53 L637.04,607.43 L637.28,608.34 L637.54,609.25 L637.80,610.17 L638.08,611.09 L638.37,612.00 L638.66,612.92 L638.97,613.83 L639.29,614.74 L639.62,615.65 L639.96,616.55 L640.31,617.45 L640.68,618.34 L641.05,619.23 L641.43,620.11 L641.83,621.00 L642.23,621.87 L642.64,622.75 L643.07,623.62 L643.50,624.48 L643.95,625.35 L644.40,626.22 L644.86,627.08 L645.33,627.94 L645.81,628.80 L646.30,629.65 L646.79,630.51 L647.29,631.36 L647.79,632.21 L648.30,633.06 L648.81,633.91 L649.33,634.76 L649.85,635.60 L650.37,636.44 L650.89,637.28 L651.41,638.11 L651.92,638.95 L652.44,639.78 L652.95,640.61 L653.46,641.43 L653.96,642.26 L654.45,643.08 L654.94,643.89 L655.42,644.70 L655.89,645.51 L656.35,646.31 L656.80,647.11 L657.24,647.90 L657.66,648.68 L658.07,649.46 L658.46,650.23 L658.84,650.99 L659.21,651.75 L659.57,652.50 L659.91,653.24 L660.24,653.99 L660.55,654.73 L660.86,655.46 L661.16,656.20 L661.45,656.95 L661.73,657.69 L662.01,658.44 L662.29,659.19 L662.56,659.94 L662.82,660.70 L663.08,661.47 L663.34,662.23 L663.59,663.00 L663.83,663.78 L664.07,664.55 L664.30,665.33 L664.52,666.10 L664.73,666.88 L664.93,667.66 L665.12,668.43 L665.30,669.20 L665.46,669.97 L665.61,670.74 L665.74,671.51 L665.86,672.27 L665.97,673.03 L666.06,673.79 L666.15,674.55 L666.21,675.30 L666.27,676.05 L666.32,676.80 L666.36,677.54 L666.39,678.27 L666.41,679.00 L666.42,679.72 L666.43,680.44 L666.43,681.14 L666.43,681.84 L666.42,682.53 L666.41,683.21 L666.39,683.88 L666.37,684.55 L666.34,685.21 L666.31,685.87 L666.28,686.52 L666.24,687.17 L666.20,687.81 L666.16,688.45 L666.11,689.09 L666.06,689.72 L666.00,690.35 L665.95,690.97 L665.89,691.59 L665.83,692.22 L665.77,692.84 L665.71,693.44 L665.64,694.02 L665.58,694.58 L665.50,695.50 L669.50,690.50 L673.50,696.00 L673.53,695.50 L673.60,694.90 L673.66,694.27 L673.73,693.64 L673.79,692.98 L673.85,692.33 L673.91,691.71 L673.97,691.05 L674.03,690.38 L674.08,689.71 L674.13,689.03 L674.18,688.34 L674.23,687.66 L674.27,686.96 L674.30,686.26 L674.34,685.55 L674.36,684.84 L674.39,684.12 L674.41,683.39 L674.42,682.65 L674.43,681.91 L674.43,681.15 L674.43,680.38 L674.42,679.60 L674.41,678.80 L674.38,678.00 L674.35,677.17 L674.31,676.34 L674.25,675.49 L674.19,674.63 L674.11,673.76 L674.01,672.87 L673.90,671.98 L673.77,671.09 L673.63,670.19 L673.47,669.29 L673.30,668.39 L673.11,667.49 L672.91,666.60 L672.69,665.71 L672.46,664.83 L672.23,663.96 L671.98,663.09 L671.73,662.24 L671.47,661.40 L671.20,660.56 L670.93,659.73 L670.66,658.91 L670.38,658.10 L670.10,657.29 L669.81,656.48 L669.52,655.67 L669.22,654.86 L668.91,654.05 L668.59,653.24 L668.26,652.43 L667.92,651.61 L667.57,650.79 L667.20,649.96 L666.82,649.13 L666.43,648.29 L666.02,647.45 L665.60,646.61 L665.16,645.76 L664.72,644.91 L664.26,644.06 L663.79,643.21 L663.31,642.36 L662.82,641.51 L662.32,640.65 L661.82,639.80 L661.31,638.95 L660.80,638.10 L660.28,637.26 L659.76,636.41 L659.24,635.57 L658.72,634.73 L658.20,633.90 L657.69,633.06 L657.17,632.23 L656.66,631.40 L656.15,630.58 L655.65,629.76 L655.16,628.94 L654.67,628.12 L654.18,627.31 L653.71,626.49 L653.24,625.68 L652.79,624.88 L652.34,624.07 L651.90,623.27 L651.47,622.47 L651.05,621.67 L650.64,620.87 L650.24,620.07 L649.85,619.28 L649.48,618.48 L649.11,617.69 L648.75,616.89 L648.41,616.09 L648.07,615.29 L647.75,614.49 L647.43,613.68 L647.12,612.87 L646.83,612.05 L646.54,611.23 L646.26,610.40 L645.99,609.57 L645.72,608.73 L645.47,607.90 L645.23,607.06 L645.00,606.23 L644.78,605.40 L644.56,604.58 L644.36,603.76 L644.17,602.96 L644.00,602.17 L643.83,601.39 L643.68,600.63 L643.54,599.89 L643.42,599.16 L643.31,598.44 L643.21,597.74 L643.12,597.05 L643.05,596.36 L642.98,595.68 L642.93,594.99 L642.90,594.29 L642.87,593.59 L642.85,592.86 L642.85,592.12 L642.86,591.35 L642.87,590.56 L642.90,589.74 L642.94,588.89 L642.99,588.01 L643.04,587.10 L643.11,586.17 L643.19,585.21 L643.27,584.22 L643.36,583.21 L643.46,582.18 L643.56,581.14 L643.67,580.08 L643.79,579.01 L643.92,577.93 L644.05,576.85 L644.18,575.77 L644.32,574.69 L644.47,573.62 L644.62,572.56 L644.78,571.52 L644.95,570.49 L645.12,569.49 L645.30,568.50 L645.49,567.54 L645.68,566.59 L645.88,565.67 L646.09,564.77 L646.32,563.88 L646.55,563.01 L646.79,562.15 L647.04,561.29 L647.31,560.44 L647.59,559.59 L647.89,558.73 L648.20,557.87 L648.53,557.00 L648.87,556.13 L649.22,555.24 L649.59,554.35 L649.97,553.45 L650.37,552.54 L650.78,551.62 L651.20,550.71 L651.63,549.79 L652.07,548.87 L652.52,547.96 L652.97,547.04 L653.44,546.14 L653.91,545.23 L654.39,544.33 L654.88,543.44 L655.37,542.55 L655.88,541.66 L656.39,540.77 L656.92,539.88 L657.45,539.00 L658.00,538.11 L658.55,537.21 L659.12,536.32 L659.70,535.42 L660.28,534.52 L660.88,533.62 L661.47,532.73 L662.08,531.83 L662.69,530.94 L663.29,530.05 L663.90,529.18 L664.50,528.31 L665.09,527.46 L665.68,526.63 L666.26,525.81 L666.83,525.01 L667.38,524.23 L667.92,523.46 L668.44,522.72 L668.95,521.99 L669.44,521.28 L669.92,520.59 L670.38,519.91 L670.82,519.24 L671.25,518.58 L671.66,517.92 L672.05,517.28 L672.42,516.64 L672.78,516.00 L673.12,515.37 L673.45,514.74 L673.76,514.11 L674.05,513.48 L674.33,512.86 L674.60,512.23 L674.85,511.61 L675.09,510.98 L675.32,510.34 L675.54,509.70 L675.75,509.05 L675.96,508.38 L676.16,507.70 L676.35,507.00 L676.54,506.27 L676.73,505.52 L676.91,504.74 L677.09,503.92 L677.27,503.07 L677.44,502.18 L677.61,501.25 L677.77,500.27 L677.93,499.25 L678.09,498.18 L678.23,497.07 L678.37,495.91 L678.51,494.71 L678.63,493.47 L678.74,492.18 L678.85,490.86 L678.94,489.51 L679.01,488.13 L679.08,486.72 L679.12,485.28 L679.16,483.83 L679.17,482.35 L679.17,480.87 L679.16,479.37 L679.13,477.86 L679.09,476.34 L679.04,474.82 L678.98,473.29 L678.90,471.77 L678.82,470.24 L678.73,468.71 L678.64,467.19 L678.54,465.68 L678.44,464.17 L678.34,462.68 L678.24,461.21 L678.15,459.75 L678.06,458.32 L677.98,456.92 L677.91,455.55 L677.85,454.21 L677.79,452.91 L677.75,451.65 L677.73,450.43 L677.71,449.25 L677.72,448.11 L677.73,447.01 L677.76,445.94 L677.81,444.90 L677.87,443.88 L677.95,442.87 L678.04,441.87 L678.14,440.88 L678.27,439.88 L678.40,438.88 L678.55,437.86 L678.72,436.83 L678.90,435.78 L679.09,434.72 L679.30,433.63 L679.52,432.53 L679.75,431.42 L679.99,430.29 L680.25,429.16 L680.52,428.02 L680.80,426.88 L681.10,425.74 L681.40,424.61 L681.72,423.48 L682.04,422.36 L682.38,421.25 L682.73,420.16 L683.09,419.08 L683.46,418.01 L683.83,416.95 L684.22,415.91 L684.62,414.88 L685.03,413.86 L685.44,412.86 L685.87,411.86 L686.30,410.88 L686.74,409.90 L687.19,408.92 L687.65,407.96 L688.12,406.99 L688.60,406.03 L689.09,405.07 L689.59,404.11 L690.09,403.15 L690.61,402.18 L691.14,401.21 L691.68,400.24 L692.22,399.26 L692.78,398.28 L693.35,397.29 L693.92,396.30 L694.51,395.30 L695.10,394.29 L695.70,393.29 L696.31,392.28 L696.93,391.27 L697.55,390.26 L698.18,389.25 L698.81,388.24 L699.45,387.23 L700.09,386.22 L700.73,385.22 L701.37,384.22 L702.02,383.22 L702.67,382.23 L703.33,381.25 L703.98,380.27 L704.63,379.30 L705.29,378.33 L705.95,377.37 L706.61,376.42 L707.26,375.47 L707.93,374.52 L708.59,373.58 L709.25,372.64 L709.92,371.70 L710.59,370.77 L711.26,369.83 L711.94,368.89 L712.62,367.95 L713.31,367.01 L714.00,366.06 L714.69,365.11 L715.39,364.16 L716.09,363.20 L716.80,362.23 L717.51,361.26 L718.21,360.29 L718.92,359.31 L719.63,358.33 L720.34,357.34 L721.04,356.36 L721.73,355.38 L722.42,354.40 L723.11,353.43 L723.78,352.46 L724.45,351.49 L725.11,350.54 L725.76,349.59 L726.41,348.65 L727.05,347.72 L727.68,346.81 L728.30,345.90 L728.93,345.00 L729.55,344.11 L730.16,343.24 L730.78,342.37 L731.40,341.51 L732.02,340.65 L732.65,339.80 L733.27,338.96 L733.91,338.12 L734.54,337.29 L735.18,336.46 L735.83,335.63 L736.48,334.80 L737.13,333.97 L737.79,333.14 L738.45,332.31 L739.11,331.49 L739.78,330.66 L740.44,329.83 L741.11,328.99 L741.78,328.16 L742.45,327.33 L743.12,326.50 L743.79,325.66 L744.46,324.83 L745.14,323.99 L745.81,323.16 L746.48,322.32 L747.15,321.49 L747.82,320.65 L748.49,319.82 L749.15,318.98 L749.81,318.15 L750.47,317.32 L751.12,316.49 L751.77,315.66 L752.41,314.83 L753.05,314.01 L753.67,313.19 L754.29,312.37 L754.89,311.56 L755.49,310.75 L756.07,309.94 L756.65,309.13 L757.21,308.32 L757.76,307.51 L758.29,306.70 L758.82,305.89 L759.33,305.08 L759.82,304.27 L760.31,303.46 L760.78,302.64 L761.24,301.82 L761.68,300.99 L762.12,300.16 L762.54,299.33 L762.95,298.49 L763.34,297.65 L763.73,296.80 L764.10,295.95 L764.46,295.09 L764.81,294.23 L765.16,293.36 L765.49,292.49 L765.81,291.62 L766.12,290.73 L766.42,289.85 L766.71,288.96 L766.99,288.06 L767.26,287.17 L767.51,286.27 L767.76,285.36 L767.99,284.46 L768.21,283.55 L768.42,282.64 L768.61,281.74 L768.79,280.84 L768.96,279.93 L769.12,279.04 L769.27,278.14 L769.40,277.25 L769.53,276.37 L769.65,275.49 L769.76,274.62 L769.87,273.75 L769.97,272.89 L770.07,272.03 L770.17,271.18 L770.26,270.33 L770.35,269.49 L770.45,268.66 L770.54,267.83 L770.63,267.00 L770.73,266.19 L770.82,265.40 L770.91,264.58 L771.01,263.78 L771.10,263.00 L771.20,262.23 L771.29,261.50 L771.37,260.91"/>
<path class="cordf" d="M444.04,760.44 L446.14,760.72 L448.66,761.07 L451.29,761.41 L453.95,761.75 L456.63,762.09 L459.22,762.41 L461.87,762.74 L464.51,763.05 L467.11,763.35 L469.68,763.63 L472.19,763.89 L474.66,764.13 L477.06,764.36 L479.40,764.56 L481.67,764.73 L483.88,764.89 L486.03,765.02 L488.13,765.13 L490.17,765.23 L492.18,765.31 L494.16,765.37 L496.11,765.41 L498.04,765.45 L499.97,765.47 L501.90,765.48 L503.84,765.47 L505.80,765.46 L507.78,765.43 L509.80,765.40 L511.87,765.35 L513.99,765.29 L516.17,765.21 L518.42,765.13 L520.74,765.02 L523.14,764.91 L525.62,764.78 L528.16,764.64 L530.77,764.47 L533.44,764.30 L536.16,764.10 L538.90,763.89 L541.66,763.67 L544.41,763.42 L547.15,763.16 L549.85,762.88 L552.50,762.58 L555.09,762.25 L557.61,761.92 L560.05,761.56 L562.42,761.18 L564.71,760.78 L566.93,760.36 L569.08,759.92 L571.17,759.46 L573.21,758.99 L575.22,758.49 L577.19,757.97 L579.14,757.43 L581.08,756.86 L583.01,756.28 L584.94,755.67 L586.87,755.04 L588.80,754.39 L590.74,753.72 L592.68,753.02 L594.62,752.30 L596.56,751.55 L598.51,750.77 L600.46,749.97 L602.41,749.14 L604.36,748.27 L606.31,747.38 L608.27,746.46 L610.22,745.50 L612.17,744.51 L614.13,743.48 L616.09,742.41 L618.05,741.30 L620.02,740.15 L621.99,738.96 L623.97,737.72 L625.96,736.44 L627.94,735.11 L629.93,733.74 L631.92,732.33 L633.90,730.88 L635.86,729.40 L637.80,727.90 L639.71,726.38 L641.58,724.85 L643.39,723.31 L645.15,721.79 L646.84,720.28 L648.45,718.79 L649.98,717.33 L651.42,715.90 L652.77,714.51 L654.03,713.17 L655.21,711.86 L656.30,710.60 L657.31,709.39 L658.24,708.22 L659.12,707.08 L660.04,705.91 L660.82,704.85 L661.00,705.00 L668.00,701.00 L668.40,707.80 L667.31,709.53 L666.41,710.75 L665.44,711.99 L664.53,713.17 L663.51,714.45 L662.39,715.79 L661.19,717.17 L659.91,718.59 L658.55,720.04 L657.10,721.53 L655.55,723.06 L653.93,724.62 L652.22,726.19 L650.44,727.79 L648.60,729.39 L646.69,731.00 L644.74,732.60 L642.74,734.19 L640.72,735.76 L638.67,737.30 L636.60,738.82 L634.52,740.29 L632.44,741.73 L630.35,743.12 L628.27,744.47 L626.18,745.77 L624.11,747.03 L622.04,748.24 L619.97,749.41 L617.91,750.53 L615.85,751.62 L613.79,752.66 L611.74,753.67 L609.69,754.64 L607.64,755.57 L605.60,756.47 L603.55,757.35 L601.52,758.18 L599.48,758.99 L597.45,759.78 L595.43,760.53 L593.41,761.26 L591.40,761.96 L589.39,762.64 L587.38,763.29 L585.37,763.92 L583.36,764.53 L581.33,765.12 L579.28,765.69 L577.20,766.24 L575.09,766.76 L572.93,767.27 L570.73,767.75 L568.46,768.21 L566.13,768.65 L563.74,769.07 L561.27,769.46 L558.72,769.84 L556.11,770.19 L553.44,770.52 L550.72,770.83 L547.95,771.12 L545.15,771.39 L542.34,771.64 L539.53,771.87 L536.75,772.08 L533.99,772.28 L531.28,772.46 L528.64,772.62 L526.05,772.77 L523.54,772.90 L521.11,773.02 L518.75,773.12 L516.46,773.21 L514.24,773.28 L512.08,773.35 L509.97,773.40 L507.91,773.43 L505.88,773.46 L503.88,773.47 L501.89,773.48 L499.91,773.47 L497.93,773.45 L495.94,773.41 L493.94,773.37 L491.90,773.30 L489.83,773.22 L487.72,773.12 L485.57,773.01 L483.35,772.87 L481.08,772.71 L478.75,772.53 L476.36,772.32 L473.90,772.10 L471.38,771.85 L468.83,771.58 L466.22,771.30 L463.58,771.00 L460.91,770.68 L458.24,770.35 L455.64,770.03 L452.95,769.69 L450.26,769.35 L447.60,769.00 L445.06,768.65 L442.96,768.36 Z"/>
<path class="cord" d="M444.04,760.44 L446.14,760.72 L448.66,761.07 L451.29,761.41 L453.95,761.75 L456.63,762.09 L459.22,762.41 L461.87,762.74 L464.51,763.05 L467.11,763.35 L469.68,763.63 L472.19,763.89 L474.66,764.13 L477.06,764.36 L479.40,764.56 L481.67,764.73 L483.88,764.89 L486.03,765.02 L488.13,765.13 L490.17,765.23 L492.18,765.31 L494.16,765.37 L496.11,765.41 L498.04,765.45 L499.97,765.47 L501.90,765.48 L503.84,765.47 L505.80,765.46 L507.78,765.43 L509.80,765.40 L511.87,765.35 L513.99,765.29 L516.17,765.21 L518.42,765.13 L520.74,765.02 L523.14,764.91 L525.62,764.78 L528.16,764.64 L530.77,764.47 L533.44,764.30 L536.16,764.10 L538.90,763.89 L541.66,763.67 L544.41,763.42 L547.15,763.16 L549.85,762.88 L552.50,762.58 L555.09,762.25 L557.61,761.92 L560.05,761.56 L562.42,761.18 L564.71,760.78 L566.93,760.36 L569.08,759.92 L571.17,759.46 L573.21,758.99 L575.22,758.49 L577.19,757.97 L579.14,757.43 L581.08,756.86 L583.01,756.28 L584.94,755.67 L586.87,755.04 L588.80,754.39 L590.74,753.72 L592.68,753.02 L594.62,752.30 L596.56,751.55 L598.51,750.77 L600.46,749.97 L602.41,749.14 L604.36,748.27 L606.31,747.38 L608.27,746.46 L610.22,745.50 L612.17,744.51 L614.13,743.48 L616.09,742.41 L618.05,741.30 L620.02,740.15 L621.99,738.96 L623.97,737.72 L625.96,736.44 L627.94,735.11 L629.93,733.74 L631.92,732.33 L633.90,730.88 L635.86,729.40 L637.80,727.90 L639.71,726.38 L641.58,724.85 L643.39,723.31 L645.15,721.79 L646.84,720.28 L648.45,718.79 L649.98,717.33 L651.42,715.90 L652.77,714.51 L654.03,713.17 L655.21,711.86 L656.30,710.60 L657.31,709.39 L658.24,708.22 L659.12,707.08 L660.04,705.91 L660.82,704.85 L661.00,705.00 L668.00,701.00 L668.40,707.80 L667.31,709.53 L666.41,710.75 L665.44,711.99 L664.53,713.17 L663.51,714.45 L662.39,715.79 L661.19,717.17 L659.91,718.59 L658.55,720.04 L657.10,721.53 L655.55,723.06 L653.93,724.62 L652.22,726.19 L650.44,727.79 L648.60,729.39 L646.69,731.00 L644.74,732.60 L642.74,734.19 L640.72,735.76 L638.67,737.30 L636.60,738.82 L634.52,740.29 L632.44,741.73 L630.35,743.12 L628.27,744.47 L626.18,745.77 L624.11,747.03 L622.04,748.24 L619.97,749.41 L617.91,750.53 L615.85,751.62 L613.79,752.66 L611.74,753.67 L609.69,754.64 L607.64,755.57 L605.60,756.47 L603.55,757.35 L601.52,758.18 L599.48,758.99 L597.45,759.78 L595.43,760.53 L593.41,761.26 L591.40,761.96 L589.39,762.64 L587.38,763.29 L585.37,763.92 L583.36,764.53 L581.33,765.12 L579.28,765.69 L577.20,766.24 L575.09,766.76 L572.93,767.27 L570.73,767.75 L568.46,768.21 L566.13,768.65 L563.74,769.07 L561.27,769.46 L558.72,769.84 L556.11,770.19 L553.44,770.52 L550.72,770.83 L547.95,771.12 L545.15,771.39 L542.34,771.64 L539.53,771.87 L536.75,772.08 L533.99,772.28 L531.28,772.46 L528.64,772.62 L526.05,772.77 L523.54,772.90 L521.11,773.02 L518.75,773.12 L516.46,773.21 L514.24,773.28 L512.08,773.35 L509.97,773.40 L507.91,773.43 L505.88,773.46 L503.88,773.47 L501.89,773.48 L499.91,773.47 L497.93,773.45 L495.94,773.41 L493.94,773.37 L491.90,773.30 L489.83,773.22 L487.72,773.12 L485.57,773.01 L483.35,772.87 L481.08,772.71 L478.75,772.53 L476.36,772.32 L473.90,772.10 L471.38,771.85 L468.83,771.58 L466.22,771.30 L463.58,771.00 L460.91,770.68 L458.24,770.35 L455.64,770.03 L452.95,769.69 L450.26,769.35 L447.60,769.00 L445.06,768.65 L442.96,768.36"/>
<path class="cordf" d="M354.23,761.04 L353.04,761.48 L351.68,761.97 L350.29,762.48 L348.77,763.04 L347.16,763.63 L345.45,764.26 L343.67,764.93 L341.85,765.62 L340.01,766.33 L338.17,767.05 L336.34,767.79 L334.54,768.53 L332.76,769.28 L330.98,770.04 L329.22,770.81 L327.46,771.60 L325.71,772.39 L323.96,773.20 L322.24,774.01 L320.55,774.83 L318.90,775.64 L317.31,776.45 L315.76,777.26 L314.28,778.05 L312.86,778.84 L311.49,779.63 L310.18,780.40 L308.92,781.18 L307.70,781.96 L306.52,782.74 L305.39,783.52 L304.30,784.32 L303.25,785.13 L302.24,785.96 L301.27,786.81 L300.35,787.67 L299.47,788.56 L298.64,789.46 L297.85,790.39 L297.12,791.32 L296.44,792.27 L295.81,793.22 L295.23,794.18 L294.72,795.15 L294.26,796.12 L293.86,797.10 L293.54,798.10 L293.29,799.11 L293.13,800.14 L293.06,801.18 L293.11,802.21 L293.25,803.22 L293.49,804.17 L293.80,805.07 L294.16,805.89 L294.56,806.67 L294.99,807.40 L295.45,808.11 L295.94,808.80 L296.46,809.50 L297.03,810.20 L297.63,810.90 L298.27,811.60 L298.94,812.29 L299.65,812.98 L300.37,813.67 L301.12,814.34 L301.88,815.01 L302.66,815.67 L303.45,816.33 L304.25,816.98 L305.07,817.63 L305.90,818.28 L306.76,818.93 L307.62,819.58 L308.50,820.22 L309.40,820.86 L310.29,821.50 L311.19,822.13 L312.09,822.75 L313.00,823.38 L313.90,824.02 L314.81,824.65 L315.72,825.30 L316.65,825.95 L317.59,826.62 L318.53,827.29 L319.48,827.97 L320.43,828.65 L321.37,829.32 L322.29,829.99 L323.19,830.64 L324.05,831.28 L324.87,831.90 L325.66,832.50 L326.39,833.07 L327.09,833.61 L327.73,834.13 L328.34,834.62 L328.90,835.09 L329.42,835.53 L329.90,835.96 L330.35,836.38 L330.77,836.79 L331.18,837.21 L331.56,837.63 L331.95,838.08 L332.33,838.56 L332.71,839.07 L333.09,839.61 L333.47,840.19 L333.85,840.79 L334.22,841.42 L334.58,842.04 L334.92,842.67 L335.23,843.27 L335.51,843.84 L335.75,844.37 L335.95,844.83 L336.10,845.22 L336.20,845.54 L336.27,845.78 L336.31,845.96 L336.33,846.11 L336.33,846.24 L336.33,846.37 L336.33,846.52 L336.32,846.69 L336.30,846.89 L336.27,847.11 L336.24,847.36 L336.00,846.00 L334.80,847.60 L340.00,846.20 L341.20,852.60 L344.20,848.21 L344.22,847.99 L344.25,847.71 L344.29,847.37 L344.32,846.95 L344.33,846.46 L344.33,845.90 L344.28,845.28 L344.19,844.61 L344.05,843.92 L343.86,843.23 L343.63,842.53 L343.36,841.83 L343.06,841.12 L342.73,840.41 L342.38,839.67 L341.99,838.93 L341.58,838.16 L341.14,837.39 L340.68,836.62 L340.20,835.86 L339.70,835.10 L339.19,834.37 L338.66,833.67 L338.12,832.99 L337.57,832.35 L337.01,831.73 L336.44,831.14 L335.86,830.58 L335.28,830.04 L334.68,829.51 L334.06,828.98 L333.42,828.45 L332.76,827.90 L332.05,827.34 L331.31,826.76 L330.52,826.15 L329.70,825.52 L328.83,824.87 L327.92,824.20 L327.00,823.52 L326.05,822.83 L325.09,822.15 L324.13,821.46 L323.17,820.78 L322.22,820.10 L321.28,819.43 L320.34,818.77 L319.41,818.11 L318.49,817.46 L317.58,816.82 L316.67,816.19 L315.78,815.57 L314.90,814.95 L314.03,814.34 L313.19,813.74 L312.37,813.14 L311.57,812.54 L310.79,811.95 L310.02,811.35 L309.27,810.75 L308.53,810.15 L307.81,809.55 L307.11,808.95 L306.44,808.36 L305.79,807.78 L305.18,807.21 L304.62,806.65 L304.09,806.11 L303.61,805.59 L303.17,805.07 L302.77,804.57 L302.40,804.09 L302.08,803.63 L301.79,803.19 L301.56,802.80 L301.38,802.44 L301.24,802.14 L301.16,801.89 L301.10,801.68 L301.07,801.48 L301.06,801.27 L301.08,801.02 L301.13,800.70 L301.23,800.31 L301.38,799.85 L301.59,799.32 L301.86,798.74 L302.19,798.13 L302.58,797.48 L303.02,796.81 L303.51,796.13 L304.04,795.45 L304.63,794.77 L305.25,794.09 L305.92,793.41 L306.64,792.74 L307.41,792.07 L308.23,791.39 L309.10,790.72 L310.03,790.04 L311.02,789.35 L312.06,788.66 L313.16,787.96 L314.31,787.26 L315.52,786.54 L316.79,785.81 L318.12,785.07 L319.51,784.32 L320.97,783.56 L322.49,782.79 L324.06,782.01 L325.69,781.23 L327.35,780.45 L329.04,779.67 L330.74,778.89 L332.45,778.13 L334.17,777.38 L335.88,776.64 L337.61,775.91 L339.36,775.20 L341.12,774.49 L342.91,773.78 L344.70,773.09 L346.49,772.41 L348.24,771.76 L349.93,771.13 L351.52,770.55 L353.04,769.99 L354.43,769.49 L355.78,768.99 L356.97,768.56 Z"/>
<path class="cord" d="M354.23,761.04 L353.04,761.48 L351.68,761.97 L350.29,762.48 L348.77,763.04 L347.16,763.63 L345.45,764.26 L343.67,764.93 L341.85,765.62 L340.01,766.33 L338.17,767.05 L336.34,767.79 L334.54,768.53 L332.76,769.28 L330.98,770.04 L329.22,770.81 L327.46,771.60 L325.71,772.39 L323.96,773.20 L322.24,774.01 L320.55,774.83 L318.90,775.64 L317.31,776.45 L315.76,777.26 L314.28,778.05 L312.86,778.84 L311.49,779.63 L310.18,780.40 L308.92,781.18 L307.70,781.96 L306.52,782.74 L305.39,783.52 L304.30,784.32 L303.25,785.13 L302.24,785.96 L301.27,786.81 L300.35,787.67 L299.47,788.56 L298.64,789.46 L297.85,790.39 L297.12,791.32 L296.44,792.27 L295.81,793.22 L295.23,794.18 L294.72,795.15 L294.26,796.12 L293.86,797.10 L293.54,798.10 L293.29,799.11 L293.13,800.14 L293.06,801.18 L293.11,802.21 L293.25,803.22 L293.49,804.17 L293.80,805.07 L294.16,805.89 L294.56,806.67 L294.99,807.40 L295.45,808.11 L295.94,808.80 L296.46,809.50 L297.03,810.20 L297.63,810.90 L298.27,811.60 L298.94,812.29 L299.65,812.98 L300.37,813.67 L301.12,814.34 L301.88,815.01 L302.66,815.67 L303.45,816.33 L304.25,816.98 L305.07,817.63 L305.90,818.28 L306.76,818.93 L307.62,819.58 L308.50,820.22 L309.40,820.86 L310.29,821.50 L311.19,822.13 L312.09,822.75 L313.00,823.38 L313.90,824.02 L314.81,824.65 L315.72,825.30 L316.65,825.95 L317.59,826.62 L318.53,827.29 L319.48,827.97 L320.43,828.65 L321.37,829.32 L322.29,829.99 L323.19,830.64 L324.05,831.28 L324.87,831.90 L325.66,832.50 L326.39,833.07 L327.09,833.61 L327.73,834.13 L328.34,834.62 L328.90,835.09 L329.42,835.53 L329.90,835.96 L330.35,836.38 L330.77,836.79 L331.18,837.21 L331.56,837.63 L331.95,838.08 L332.33,838.56 L332.71,839.07 L333.09,839.61 L333.47,840.19 L333.85,840.79 L334.22,841.42 L334.58,842.04 L334.92,842.67 L335.23,843.27 L335.51,843.84 L335.75,844.37 L335.95,844.83 L336.10,845.22 L336.20,845.54 L336.27,845.78 L336.31,845.96 L336.33,846.11 L336.33,846.24 L336.33,846.37 L336.33,846.52 L336.32,846.69 L336.30,846.89 L336.27,847.11 L336.24,847.36 L336.00,846.00 L334.80,847.60 L340.00,846.20 L341.20,852.60 L344.20,848.21 L344.22,847.99 L344.25,847.71 L344.29,847.37 L344.32,846.95 L344.33,846.46 L344.33,845.90 L344.28,845.28 L344.19,844.61 L344.05,843.92 L343.86,843.23 L343.63,842.53 L343.36,841.83 L343.06,841.12 L342.73,840.41 L342.38,839.67 L341.99,838.93 L341.58,838.16 L341.14,837.39 L340.68,836.62 L340.20,835.86 L339.70,835.10 L339.19,834.37 L338.66,833.67 L338.12,832.99 L337.57,832.35 L337.01,831.73 L336.44,831.14 L335.86,830.58 L335.28,830.04 L334.68,829.51 L334.06,828.98 L333.42,828.45 L332.76,827.90 L332.05,827.34 L331.31,826.76 L330.52,826.15 L329.70,825.52 L328.83,824.87 L327.92,824.20 L327.00,823.52 L326.05,822.83 L325.09,822.15 L324.13,821.46 L323.17,820.78 L322.22,820.10 L321.28,819.43 L320.34,818.77 L319.41,818.11 L318.49,817.46 L317.58,816.82 L316.67,816.19 L315.78,815.57 L314.90,814.95 L314.03,814.34 L313.19,813.74 L312.37,813.14 L311.57,812.54 L310.79,811.95 L310.02,811.35 L309.27,810.75 L308.53,810.15 L307.81,809.55 L307.11,808.95 L306.44,808.36 L305.79,807.78 L305.18,807.21 L304.62,806.65 L304.09,806.11 L303.61,805.59 L303.17,805.07 L302.77,804.57 L302.40,804.09 L302.08,803.63 L301.79,803.19 L301.56,802.80 L301.38,802.44 L301.24,802.14 L301.16,801.89 L301.10,801.68 L301.07,801.48 L301.06,801.27 L301.08,801.02 L301.13,800.70 L301.23,800.31 L301.38,799.85 L301.59,799.32 L301.86,798.74 L302.19,798.13 L302.58,797.48 L303.02,796.81 L303.51,796.13 L304.04,795.45 L304.63,794.77 L305.25,794.09 L305.92,793.41 L306.64,792.74 L307.41,792.07 L308.23,791.39 L309.10,790.72 L310.03,790.04 L311.02,789.35 L312.06,788.66 L313.16,787.96 L314.31,787.26 L315.52,786.54 L316.79,785.81 L318.12,785.07 L319.51,784.32 L320.97,783.56 L322.49,782.79 L324.06,782.01 L325.69,781.23 L327.35,780.45 L329.04,779.67 L330.74,778.89 L332.45,778.13 L334.17,777.38 L335.88,776.64 L337.61,775.91 L339.36,775.20 L341.12,774.49 L342.91,773.78 L344.70,773.09 L346.49,772.41 L348.24,771.76 L349.93,771.13 L351.52,770.55 L353.04,769.99 L354.43,769.49 L355.78,768.99 L356.97,768.56"/>
<path class="cordf" d="M157.81,810.20 L158.58,810.17 L159.52,810.13 L160.50,810.08 L161.49,810.04 L162.50,810.00 L163.47,809.97 L164.47,809.93 L165.48,809.89 L166.48,809.86 L167.48,809.83 L168.46,809.81 L169.44,809.79 L170.40,809.77 L171.35,809.76 L172.29,809.75 L173.20,809.74 L174.11,809.74 L174.99,809.74 L175.87,809.75 L176.73,809.75 L177.59,809.77 L178.44,809.78 L179.28,809.79 L180.12,809.81 L180.97,809.83 L181.81,809.86 L182.65,809.88 L183.50,809.91 L184.35,809.95 L185.20,809.99 L186.06,810.03 L186.92,810.08 L187.78,810.14 L188.65,810.21 L189.52,810.28 L190.39,810.36 L191.26,810.45 L192.13,810.55 L193.00,810.65 L193.88,810.77 L194.75,810.89 L195.62,811.03 L196.49,811.17 L197.36,811.32 L198.23,811.47 L199.10,811.64 L199.97,811.81 L200.84,811.99 L201.71,812.18 L202.58,812.38 L203.45,812.59 L204.32,812.81 L205.19,813.03 L206.07,813.27 L206.94,813.52 L207.82,813.77 L208.70,814.04 L209.57,814.32 L210.45,814.62 L211.33,814.92 L212.20,815.23 L213.08,815.56 L213.95,815.89 L214.82,816.23 L215.68,816.58 L216.55,816.94 L217.41,817.31 L218.26,817.68 L219.12,818.05 L219.97,818.43 L220.82,818.82 L221.67,819.20 L222.52,819.59 L223.36,819.99 L224.20,820.38 L225.05,820.78 L225.89,821.18 L226.73,821.58 L227.57,821.99 L228.41,822.39 L229.25,822.80 L230.09,823.21 L230.93,823.62 L231.76,824.03 L232.60,824.44 L233.44,824.85 L234.28,825.27 L235.12,825.68 L235.95,826.10 L236.79,826.52 L237.63,826.94 L238.46,827.36 L239.30,827.78 L240.14,828.20 L240.97,828.63 L241.81,829.05 L242.64,829.47 L243.47,829.89 L244.31,830.32 L245.13,830.74 L245.96,831.16 L246.78,831.57 L247.59,831.99 L248.41,832.40 L249.21,832.80 L250.01,833.21 L250.81,833.61 L251.61,834.00 L252.41,834.40 L253.22,834.79 L254.03,835.18 L254.87,835.58 L255.72,835.99 L256.61,836.40 L257.53,836.83 L258.50,837.27 L259.53,837.73 L260.61,838.21 L261.75,838.71 L262.95,839.23 L264.22,839.77 L265.55,840.34 L266.95,840.93 L268.40,841.53 L269.90,842.16 L271.46,842.79 L273.05,843.44 L274.67,844.10 L276.32,844.76 L277.99,845.42 L279.67,846.08 L281.36,846.74 L283.05,847.39 L284.74,848.03 L286.42,848.66 L288.09,849.28 L289.74,849.88 L291.37,850.46 L292.98,851.03 L294.56,851.57 L296.12,852.09 L297.65,852.59 L299.14,853.07 L300.60,853.52 L302.03,853.94 L303.41,854.34 L304.76,854.71 L306.06,855.05 L307.32,855.37 L308.53,855.66 L309.70,855.93 L310.81,856.17 L311.88,856.39 L312.89,856.58 L313.84,856.76 L314.75,856.91 L315.60,857.04 L316.39,857.15 L317.14,857.25 L317.84,857.33 L318.49,857.40 L319.10,857.45 L319.69,857.50 L320.30,857.54 L320.81,857.57 L321.27,857.59 L321.67,857.60 L322.00,857.70 L328.50,860.00 L324.00,865.50 L321.58,865.60 L321.03,865.59 L320.41,865.56 L319.76,865.52 L319.09,865.47 L318.46,865.43 L317.74,865.36 L316.98,865.29 L316.17,865.19 L315.32,865.08 L314.42,864.95 L313.47,864.81 L312.47,864.64 L311.41,864.45 L310.31,864.23 L309.16,864.00 L307.95,863.73 L306.70,863.45 L305.40,863.13 L304.06,862.80 L302.68,862.43 L301.25,862.04 L299.79,861.62 L298.29,861.17 L296.76,860.70 L295.20,860.21 L293.61,859.69 L291.99,859.15 L290.35,858.59 L288.69,858.00 L287.02,857.40 L285.33,856.79 L283.62,856.16 L281.91,855.51 L280.19,854.86 L278.48,854.20 L276.76,853.53 L275.05,852.86 L273.36,852.19 L271.69,851.52 L270.04,850.85 L268.43,850.20 L266.86,849.55 L265.33,848.92 L263.85,848.30 L262.44,847.71 L261.08,847.13 L259.78,846.57 L258.55,846.04 L257.38,845.53 L256.27,845.03 L255.21,844.56 L254.21,844.10 L253.24,843.66 L252.32,843.23 L251.43,842.81 L250.57,842.39 L249.72,841.98 L248.89,841.58 L248.06,841.17 L247.25,840.77 L246.43,840.36 L245.62,839.95 L244.80,839.54 L243.98,839.12 L243.16,838.71 L242.34,838.29 L241.51,837.87 L240.68,837.45 L239.85,837.03 L239.02,836.61 L238.19,836.18 L237.36,835.76 L236.53,835.34 L235.70,834.92 L234.87,834.51 L234.04,834.09 L233.21,833.67 L232.38,833.26 L231.55,832.85 L230.72,832.44 L229.89,832.02 L229.06,831.62 L228.24,831.21 L227.41,830.80 L226.58,830.40 L225.75,829.99 L224.93,829.59 L224.10,829.19 L223.27,828.80 L222.45,828.40 L221.62,828.01 L220.80,827.62 L219.97,827.24 L219.15,826.85 L218.33,826.47 L217.51,826.10 L216.70,825.73 L215.88,825.37 L215.07,825.01 L214.26,824.66 L213.45,824.32 L212.65,823.99 L211.85,823.66 L211.05,823.35 L210.26,823.04 L209.46,822.75 L208.67,822.47 L207.88,822.19 L207.09,821.93 L206.30,821.68 L205.51,821.44 L204.72,821.20 L203.93,820.98 L203.14,820.77 L202.35,820.56 L201.55,820.36 L200.76,820.17 L199.96,819.99 L199.16,819.82 L198.37,819.65 L197.57,819.49 L196.77,819.34 L195.97,819.19 L195.18,819.06 L194.38,818.93 L193.58,818.81 L192.79,818.69 L192.00,818.59 L191.20,818.49 L190.41,818.40 L189.61,818.32 L188.82,818.25 L188.02,818.18 L187.22,818.12 L186.42,818.07 L185.61,818.02 L184.81,817.98 L184.00,817.94 L183.19,817.91 L182.38,817.88 L181.57,817.85 L180.75,817.83 L179.94,817.81 L179.12,817.79 L178.30,817.78 L177.48,817.76 L176.65,817.75 L175.81,817.75 L174.96,817.74 L174.10,817.74 L173.23,817.74 L172.35,817.75 L171.45,817.76 L170.53,817.77 L169.60,817.78 L168.65,817.81 L167.69,817.83 L166.72,817.86 L165.74,817.89 L164.75,817.92 L163.77,817.96 L162.81,818.00 L161.81,818.04 L160.84,818.08 L159.87,818.12 L158.95,818.16 L158.19,818.20 Z"/>
<path class="cord" d="M157.81,810.20 L158.58,810.17 L159.52,810.13 L160.50,810.08 L161.49,810.04 L162.50,810.00 L163.47,809.97 L164.47,809.93 L165.48,809.89 L166.48,809.86 L167.48,809.83 L168.46,809.81 L169.44,809.79 L170.40,809.77 L171.35,809.76 L172.29,809.75 L173.20,809.74 L174.11,809.74 L174.99,809.74 L175.87,809.75 L176.73,809.75 L177.59,809.77 L178.44,809.78 L179.28,809.79 L180.12,809.81 L180.97,809.83 L181.81,809.86 L182.65,809.88 L183.50,809.91 L184.35,809.95 L185.20,809.99 L186.06,810.03 L186.92,810.08 L187.78,810.14 L188.65,810.21 L189.52,810.28 L190.39,810.36 L191.26,810.45 L192.13,810.55 L193.00,810.65 L193.88,810.77 L194.75,810.89 L195.62,811.03 L196.49,811.17 L197.36,811.32 L198.23,811.47 L199.10,811.64 L199.97,811.81 L200.84,811.99 L201.71,812.18 L202.58,812.38 L203.45,812.59 L204.32,812.81 L205.19,813.03 L206.07,813.27 L206.94,813.52 L207.82,813.77 L208.70,814.04 L209.57,814.32 L210.45,814.62 L211.33,814.92 L212.20,815.23 L213.08,815.56 L213.95,815.89 L214.82,816.23 L215.68,816.58 L216.55,816.94 L217.41,817.31 L218.26,817.68 L219.12,818.05 L219.97,818.43 L220.82,818.82 L221.67,819.20 L222.52,819.59 L223.36,819.99 L224.20,820.38 L225.05,820.78 L225.89,821.18 L226.73,821.58 L227.57,821.99 L228.41,822.39 L229.25,822.80 L230.09,823.21 L230.93,823.62 L231.76,824.03 L232.60,824.44 L233.44,824.85 L234.28,825.27 L235.12,825.68 L235.95,826.10 L236.79,826.52 L237.63,826.94 L238.46,827.36 L239.30,827.78 L240.14,828.20 L240.97,828.63 L241.81,829.05 L242.64,829.47 L243.47,829.89 L244.31,830.32 L245.13,830.74 L245.96,831.16 L246.78,831.57 L247.59,831.99 L248.41,832.40 L249.21,832.80 L250.01,833.21 L250.81,833.61 L251.61,834.00 L252.41,834.40 L253.22,834.79 L254.03,835.18 L254.87,835.58 L255.72,835.99 L256.61,836.40 L257.53,836.83 L258.50,837.27 L259.53,837.73 L260.61,838.21 L261.75,838.71 L262.95,839.23 L264.22,839.77 L265.55,840.34 L266.95,840.93 L268.40,841.53 L269.90,842.16 L271.46,842.79 L273.05,843.44 L274.67,844.10 L276.32,844.76 L277.99,845.42 L279.67,846.08 L281.36,846.74 L283.05,847.39 L284.74,848.03 L286.42,848.66 L288.09,849.28 L289.74,849.88 L291.37,850.46 L292.98,851.03 L294.56,851.57 L296.12,852.09 L297.65,852.59 L299.14,853.07 L300.60,853.52 L302.03,853.94 L303.41,854.34 L304.76,854.71 L306.06,855.05 L307.32,855.37 L308.53,855.66 L309.70,855.93 L310.81,856.17 L311.88,856.39 L312.89,856.58 L313.84,856.76 L314.75,856.91 L315.60,857.04 L316.39,857.15 L317.14,857.25 L317.84,857.33 L318.49,857.40 L319.10,857.45 L319.69,857.50 L320.30,857.54 L320.81,857.57 L321.27,857.59 L321.67,857.60 L322.00,857.70 L328.50,860.00 L324.00,865.50 L321.58,865.60 L321.03,865.59 L320.41,865.56 L319.76,865.52 L319.09,865.47 L318.46,865.43 L317.74,865.36 L316.98,865.29 L316.17,865.19 L315.32,865.08 L314.42,864.95 L313.47,864.81 L312.47,864.64 L311.41,864.45 L310.31,864.23 L309.16,864.00 L307.95,863.73 L306.70,863.45 L305.40,863.13 L304.06,862.80 L302.68,862.43 L301.25,862.04 L299.79,861.62 L298.29,861.17 L296.76,860.70 L295.20,860.21 L293.61,859.69 L291.99,859.15 L290.35,858.59 L288.69,858.00 L287.02,857.40 L285.33,856.79 L283.62,856.16 L281.91,855.51 L280.19,854.86 L278.48,854.20 L276.76,853.53 L275.05,852.86 L273.36,852.19 L271.69,851.52 L270.04,850.85 L268.43,850.20 L266.86,849.55 L265.33,848.92 L263.85,848.30 L262.44,847.71 L261.08,847.13 L259.78,846.57 L258.55,846.04 L257.38,845.53 L256.27,845.03 L255.21,844.56 L254.21,844.10 L253.24,843.66 L252.32,843.23 L251.43,842.81 L250.57,842.39 L249.72,841.98 L248.89,841.58 L248.06,841.17 L247.25,840.77 L246.43,840.36 L245.62,839.95 L244.80,839.54 L243.98,839.12 L243.16,838.71 L242.34,838.29 L241.51,837.87 L240.68,837.45 L239.85,837.03 L239.02,836.61 L238.19,836.18 L237.36,835.76 L236.53,835.34 L235.70,834.92 L234.87,834.51 L234.04,834.09 L233.21,833.67 L232.38,833.26 L231.55,832.85 L230.72,832.44 L229.89,832.02 L229.06,831.62 L228.24,831.21 L227.41,830.80 L226.58,830.40 L225.75,829.99 L224.93,829.59 L224.10,829.19 L223.27,828.80 L222.45,828.40 L221.62,828.01 L220.80,827.62 L219.97,827.24 L219.15,826.85 L218.33,826.47 L217.51,826.10 L216.70,825.73 L215.88,825.37 L215.07,825.01 L214.26,824.66 L213.45,824.32 L212.65,823.99 L211.85,823.66 L211.05,823.35 L210.26,823.04 L209.46,822.75 L208.67,822.47 L207.88,822.19 L207.09,821.93 L206.30,821.68 L205.51,821.44 L204.72,821.20 L203.93,820.98 L203.14,820.77 L202.35,820.56 L201.55,820.36 L200.76,820.17 L199.96,819.99 L199.16,819.82 L198.37,819.65 L197.57,819.49 L196.77,819.34 L195.97,819.19 L195.18,819.06 L194.38,818.93 L193.58,818.81 L192.79,818.69 L192.00,818.59 L191.20,818.49 L190.41,818.40 L189.61,818.32 L188.82,818.25 L188.02,818.18 L187.22,818.12 L186.42,818.07 L185.61,818.02 L184.81,817.98 L184.00,817.94 L183.19,817.91 L182.38,817.88 L181.57,817.85 L180.75,817.83 L179.94,817.81 L179.12,817.79 L178.30,817.78 L177.48,817.76 L176.65,817.75 L175.81,817.75 L174.96,817.74 L174.10,817.74 L173.23,817.74 L172.35,817.75 L171.45,817.76 L170.53,817.77 L169.60,817.78 L168.65,817.81 L167.69,817.83 L166.72,817.86 L165.74,817.89 L164.75,817.92 L163.77,817.96 L162.81,818.00 L161.81,818.04 L160.84,818.08 L159.87,818.12 L158.95,818.16 L158.19,818.20"/>
<line class="o" x1="355.6" y1="736.5" x2="355.6" y2="783.5"/>
<line class="o" x1="443.5" y1="736.5" x2="443.5" y2="783.5"/>
<line class="o" x1="141" y1="811" x2="141.5" y2="823.5"/>
<line class="d" x1="68" y1="783.3" x2="355.6" y2="783.3"/>
<line class="d" x1="748.6" y1="290.5" x2="842.8" y2="290.5"/>
<path class="ar" d="M748.60,290.50 L757.10,289.00 Q757.90,290.50 757.10,292.00 Z"/>
<path class="ar" d="M785.60,290.50 L777.10,292.00 Q776.30,290.50 777.10,289.00 Z"/>
<path class="d" d="M689,410.2 L729.2,454.6 H740" />
<path class="ar" d="M689.00,410.20 L695.82,415.49 Q695.24,417.09 693.59,417.51 Z"/>
<text x="740.50" y="459.50" font-size="22.3" letter-spacing="0.06">1540 (длина шнура)</text>
<path class="d" d="M188,819 L157.5,889.4 H168" />
<path class="ar" d="M188.00,819.00 L186.00,827.40 Q184.30,827.53 183.24,826.20 Z"/>
<text x="168.27" y="895.85" font-size="22.3" letter-spacing="0.23">850 (длина шнура)</text>
<path class="o" d="M99,808.6 L119,805.5 L136,806.2 Q139.8,807.2 141,811 L141.6,824.6 L103.5,830.2 Q101.3,830.4 100.9,828.4 L98,811 Q97.8,808.9 99,808.6 Z" fill="#fff"/>
<line class="o" x1="102.6" y1="808.4" x2="105" y2="829.9"/>
<path class="o" d="M103.4,830.8 L131.8,827.6 L132.8,839.2 L105.5,842.3 Z" />
<line class="o" x1="110.8" y1="830" x2="112.2" y2="841.5"/>
<line class="o" x1="124.8" y1="828.5" x2="125.8" y2="840.2"/>
<path class="o" d="M117,829.6 L118.7,850.8 Q120.3,853.2 122,850.6 L120.2,829.2" />
<path class="f2" d="M141,811 L157.5,809.5 L158,818.5 L141.5,823.5 Z" />
<line class="g2" x1="141.2" y1="817" x2="157.8" y2="815"/>
<line class="th2" x1="143.0" y1="811.5" x2="143.3" y2="816"/>
<line class="th2" x1="143.2" y1="818.5" x2="143.4" y2="822"/>
<line class="th2" x1="145.6" y1="811.5" x2="145.9" y2="816"/>
<line class="th2" x1="145.79999999999998" y1="818.5" x2="146.0" y2="822"/>
<line class="th2" x1="148.2" y1="811.5" x2="148.5" y2="816"/>
<line class="th2" x1="148.39999999999998" y1="818.5" x2="148.6" y2="822"/>
<line class="th2" x1="150.8" y1="811.5" x2="151.10000000000002" y2="816"/>
<line class="th2" x1="151.0" y1="818.5" x2="151.20000000000002" y2="822"/>
<line class="th2" x1="153.4" y1="811.5" x2="153.70000000000002" y2="816"/>
<line class="th2" x1="153.6" y1="818.5" x2="153.8" y2="822"/>
<line class="th2" x1="156.0" y1="811.5" x2="156.3" y2="816"/>
<line class="th2" x1="156.2" y1="818.5" x2="156.4" y2="822"/>
</svg></body></html>
